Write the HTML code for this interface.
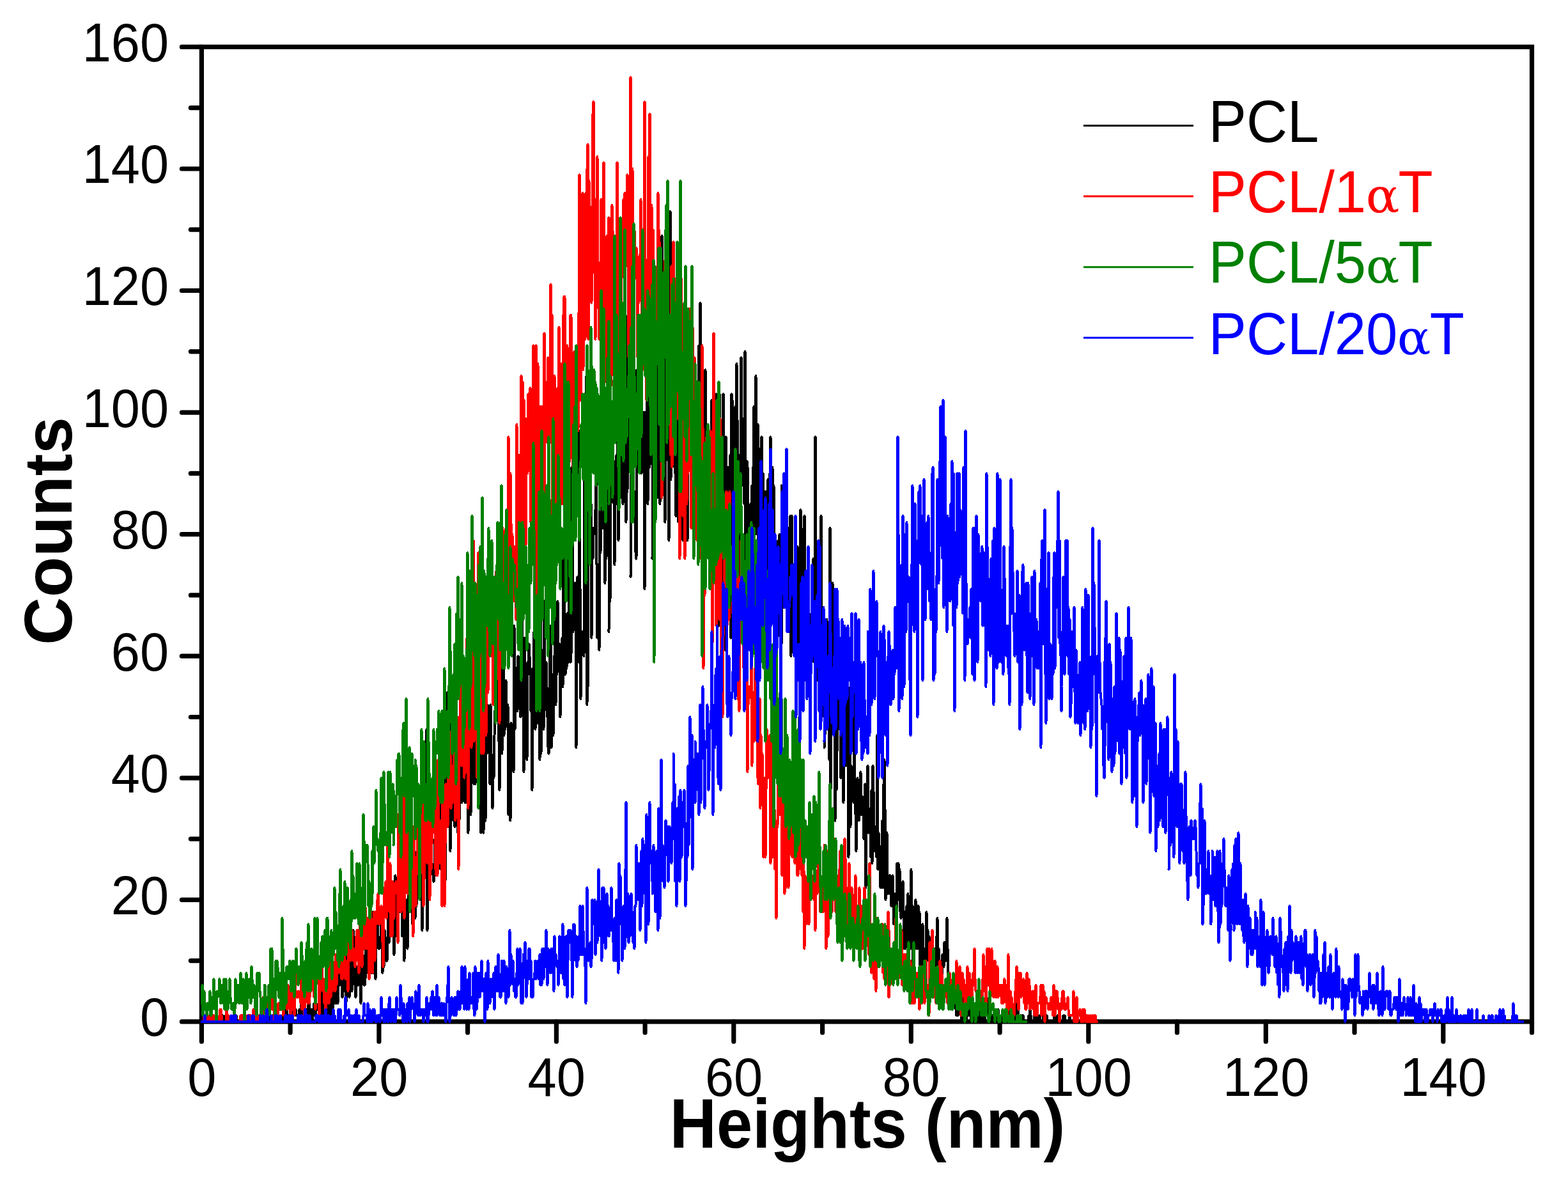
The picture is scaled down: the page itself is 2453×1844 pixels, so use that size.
<!DOCTYPE html>
<html><head><meta charset="utf-8"><title>Height histogram</title><style>html,body{margin:0;padding:0;background:#fff;overflow:hidden}svg{display:block}</style></head><body>
<svg width="2453" height="1844" viewBox="0 0 2453 1844">
<rect width="2453" height="1844" fill="#fff"/>
<g stroke="#000" stroke-width="7.2" fill="none" stroke-linecap="round">
<path d="M315.4 1597.9 V73.4 H2396.5 V1597.9 Z" stroke-linejoin="miter" stroke-linecap="butt"/>
<path d="M315.4 1597.9 H284.4"/>
<path d="M315.4 1502.6 H298.4"/>
<path d="M315.4 1407.3 H284.4"/>
<path d="M315.4 1312.1 H298.4"/>
<path d="M315.4 1216.8 H284.4"/>
<path d="M315.4 1121.5 H298.4"/>
<path d="M315.4 1026.2 H284.4"/>
<path d="M315.4 930.9 H298.4"/>
<path d="M315.4 835.7 H284.4"/>
<path d="M315.4 740.4 H298.4"/>
<path d="M315.4 645.1 H284.4"/>
<path d="M315.4 549.8 H298.4"/>
<path d="M315.4 454.5 H284.4"/>
<path d="M315.4 359.2 H298.4"/>
<path d="M315.4 264.0 H284.4"/>
<path d="M315.4 168.7 H298.4"/>
<path d="M315.4 73.4 H284.4"/>
<path d="M315.4 1597.9 V1628.9"/>
<path d="M454.1 1597.9 V1614.9"/>
<path d="M592.9 1597.9 V1628.9"/>
<path d="M731.6 1597.9 V1614.9"/>
<path d="M870.4 1597.9 V1628.9"/>
<path d="M1009.1 1597.9 V1614.9"/>
<path d="M1147.8 1597.9 V1628.9"/>
<path d="M1286.6 1597.9 V1614.9"/>
<path d="M1425.3 1597.9 V1628.9"/>
<path d="M1564.1 1597.9 V1614.9"/>
<path d="M1702.8 1597.9 V1628.9"/>
<path d="M1841.5 1597.9 V1614.9"/>
<path d="M1980.3 1597.9 V1628.9"/>
<path d="M2119.0 1597.9 V1614.9"/>
<path d="M2257.8 1597.9 V1628.9"/>
<path d="M2396.5 1597.9 V1614.9"/>
</g>
<g fill="none" stroke-width="4.0" stroke-linejoin="round" stroke-linecap="round" shape-rendering="crispEdges">
<path stroke="#000000" d="M315.5,1597.9 L316.5,1597.9 317.5,1597.9 318.5,1597.9 319.5,1597.9 320.5,1597.9 321.5,1597.9 322.5,1597.9 323.5,1597.9 324.5,1597.9 325.5,1597.9 326.5,1597.9 327.5,1597.9 328.5,1597.9 329.5,1597.9 330.5,1597.9 331.5,1597.9 332.5,1597.9 333.5,1597.9 334.5,1597.9 335.5,1597.9 336.5,1597.9 337.5,1597.9 338.5,1597.9 339.5,1597.9 340.5,1597.9 341.5,1597.9 342.5,1597.9 343.5,1597.9 344.5,1597.9 345.5,1597.9 346.5,1597.9 346.5,1597.9 347.5,1597.9 348.5,1588.4 349.5,1597.9 350.5,1597.9 351.5,1597.9 352.5,1588.4 353.5,1597.9 354.5,1597.9 355.5,1597.9 356.5,1597.9 357.5,1597.9 358.5,1597.9 359.5,1597.9 360.5,1597.9 361.5,1597.9 362.5,1597.9 363.5,1597.9 364.5,1597.9 365.5,1597.9 366.5,1597.9 367.5,1597.9 368.5,1597.9 369.5,1588.4 370.5,1597.9 371.5,1597.9 372.5,1597.9 373.5,1597.9 374.5,1597.9 375.5,1597.9 376.5,1597.9 377.5,1597.9 378.5,1597.9 379.5,1597.9 379.5,1597.9 380.5,1597.9 381.5,1597.9 382.5,1597.9 383.5,1597.9 384.5,1597.9 385.5,1597.9 386.5,1597.9 387.5,1597.9 388.5,1597.9 389.5,1597.9 390.5,1597.9 391.5,1597.9 392.5,1597.9 393.5,1597.9 394.5,1597.9 395.5,1588.4 396.5,1588.4 397.5,1597.9 398.5,1597.9 399.5,1597.9 400.5,1597.9 401.5,1597.9 402.5,1597.9 403.5,1597.9 404.5,1597.9 405.5,1588.4 406.5,1597.9 407.5,1597.9 408.5,1597.9 409.5,1588.4 410.5,1597.9 411.5,1597.9 412.5,1597.9 413.5,1588.4 413.5,1597.9 414.5,1597.9 415.5,1597.9 416.5,1597.9 417.5,1597.9 418.5,1597.9 419.5,1597.9 420.5,1588.4 421.5,1597.9 422.5,1597.9 423.5,1597.9 424.5,1597.9 425.5,1597.9 426.5,1588.4 427.5,1588.4 428.5,1597.9 429.5,1597.9 430.5,1588.4 431.5,1597.9 432.5,1597.9 433.5,1597.9 434.5,1588.4 435.5,1597.9 436.5,1597.9 437.5,1597.9 438.5,1597.9 439.5,1597.9 440.5,1597.9 441.5,1588.4 442.5,1588.4 443.5,1597.9 444.5,1597.9 445.5,1597.9 446.5,1588.4 447.5,1597.9 447.5,1588.4 448.5,1569.3 449.5,1588.4 450.5,1597.9 451.5,1588.4 452.5,1597.9 453.5,1588.4 454.5,1588.4 455.5,1578.8 456.5,1588.4 457.5,1588.4 458.5,1588.4 459.5,1569.3 460.5,1588.4 461.5,1578.8 462.5,1578.8 463.5,1588.4 464.5,1588.4 465.5,1588.4 466.5,1597.9 467.5,1597.9 468.5,1578.8 469.5,1578.8 470.5,1597.9 471.5,1569.3 472.5,1578.8 473.5,1588.4 474.5,1578.8 475.5,1578.8 476.5,1597.9 477.5,1578.8 478.5,1578.8 479.5,1588.4 480.5,1578.8 481.5,1578.8 481.5,1588.4 482.5,1559.8 483.5,1569.3 484.5,1588.4 485.5,1578.8 486.5,1578.8 487.5,1588.4 488.5,1597.9 489.5,1578.8 490.5,1588.4 491.5,1569.3 492.5,1588.4 493.5,1588.4 494.5,1569.3 495.5,1578.8 496.5,1578.8 497.5,1578.8 498.5,1569.3 499.5,1550.3 500.5,1588.4 501.5,1578.8 502.5,1578.8 503.5,1597.9 504.5,1531.2 505.5,1550.3 506.5,1559.8 507.5,1588.4 508.5,1569.3 509.5,1569.3 510.5,1578.8 511.5,1550.3 512.5,1588.4 513.5,1559.8 514.5,1569.3 514.5,1578.8 515.5,1550.3 516.5,1550.3 517.5,1588.4 518.5,1531.2 519.5,1569.3 520.5,1578.8 521.5,1550.3 522.5,1569.3 523.5,1531.2 524.5,1569.3 525.5,1540.7 526.5,1540.7 527.5,1569.3 528.5,1569.3 529.5,1521.7 530.5,1521.7 531.5,1540.7 532.5,1521.7 533.5,1540.7 534.5,1512.1 535.5,1559.8 536.5,1550.3 537.5,1512.1 538.5,1550.3 539.5,1531.2 540.5,1550.3 541.5,1569.3 542.5,1483.6 543.5,1540.7 544.5,1521.7 545.5,1540.7 546.5,1559.8 547.5,1521.7 548.5,1540.7 548.5,1455.0 549.5,1540.7 550.5,1550.3 551.5,1502.6 552.5,1455.0 553.5,1483.6 554.5,1521.7 555.5,1540.7 556.5,1559.8 557.5,1512.1 558.5,1531.2 559.5,1540.7 560.5,1540.7 561.5,1512.1 562.5,1531.2 563.5,1521.7 564.5,1569.3 565.5,1502.6 566.5,1483.6 567.5,1493.1 568.5,1502.6 569.5,1540.7 570.5,1540.7 571.5,1531.2 572.5,1464.5 573.5,1521.7 574.5,1502.6 575.5,1474.0 576.5,1464.5 577.5,1483.6 578.5,1521.7 579.5,1512.1 580.5,1474.0 581.5,1521.7 582.5,1521.7 582.5,1464.5 583.5,1426.4 584.5,1521.7 585.5,1521.7 586.5,1435.9 587.5,1531.2 588.5,1474.0 589.5,1464.5 590.5,1445.5 591.5,1464.5 592.5,1483.6 593.5,1483.6 594.5,1474.0 595.5,1464.5 596.5,1416.9 597.5,1483.6 598.5,1521.7 599.5,1435.9 600.5,1512.1 601.5,1455.0 602.5,1464.5 603.5,1483.6 604.5,1502.6 605.5,1502.6 606.5,1474.0 607.5,1426.4 608.5,1474.0 609.5,1455.0 610.5,1445.5 611.5,1388.3 612.5,1464.5 613.5,1445.5 614.5,1397.8 615.5,1426.4 615.5,1435.9 616.5,1493.1 617.5,1455.0 618.5,1369.2 619.5,1464.5 620.5,1435.9 621.5,1397.8 622.5,1474.0 623.5,1426.4 624.5,1426.4 625.5,1407.3 626.5,1407.3 627.5,1388.3 628.5,1426.4 629.5,1464.5 630.5,1331.1 631.5,1445.5 632.5,1502.6 633.5,1426.4 634.5,1445.5 635.5,1416.9 636.5,1407.3 637.5,1483.6 638.5,1426.4 639.5,1321.6 640.5,1416.9 641.5,1407.3 642.5,1378.8 643.5,1388.3 644.5,1350.2 645.5,1445.5 646.5,1378.8 647.5,1312.1 648.5,1388.3 649.5,1435.9 649.5,1435.9 650.5,1388.3 651.5,1416.9 652.5,1331.1 653.5,1273.9 654.5,1378.8 655.5,1283.5 656.5,1378.8 657.5,1369.2 658.5,1340.6 659.5,1359.7 660.5,1455.0 661.5,1369.2 662.5,1331.1 663.5,1340.6 664.5,1340.6 665.5,1321.6 666.5,1331.1 667.5,1140.6 668.5,1455.0 669.5,1397.8 670.5,1359.7 671.5,1331.1 672.5,1388.3 673.5,1359.7 674.5,1235.8 675.5,1350.2 676.5,1359.7 677.5,1369.2 678.5,1378.8 679.5,1369.2 680.5,1312.1 681.5,1321.6 682.5,1350.2 683.5,1359.7 683.5,1226.3 684.5,1312.1 685.5,1350.2 686.5,1264.4 687.5,1302.5 688.5,1226.3 689.5,1359.7 690.5,1273.9 691.5,1312.1 692.5,1340.6 693.5,1216.8 694.5,1159.6 695.5,1312.1 696.5,1378.8 697.5,1293.0 698.5,1235.8 699.5,1083.4 700.5,1273.9 701.5,1207.2 702.5,1273.9 703.5,1169.1 704.5,1331.1 705.5,1197.7 706.5,1102.4 707.5,1226.3 708.5,1245.4 709.5,1283.5 710.5,1226.3 711.5,1293.0 712.5,1283.5 713.5,1283.5 714.5,1245.4 715.5,1264.4 716.5,1302.5 716.5,1188.2 717.5,1235.8 718.5,1283.5 719.5,1207.2 720.5,1235.8 721.5,1140.6 722.5,1254.9 723.5,1226.3 724.5,1216.8 725.5,1207.2 726.5,1235.8 727.5,1254.9 728.5,1254.9 729.5,1254.9 730.5,1131.0 731.5,1159.6 732.5,1302.5 733.5,1216.8 734.5,1207.2 735.5,1131.0 736.5,1273.9 737.5,1140.6 738.5,1150.1 739.5,1140.6 740.5,1150.1 741.5,1226.3 742.5,1131.0 743.5,1226.3 744.5,1140.6 745.5,1064.3 746.5,1169.1 747.5,1150.1 748.5,1264.4 749.5,1159.6 750.5,1140.6 750.5,1140.6 751.5,1216.8 752.5,1302.5 753.5,1073.9 754.5,1226.3 755.5,1140.6 756.5,1302.5 757.5,1150.1 758.5,1092.9 759.5,1283.5 760.5,1131.0 761.5,1178.7 762.5,1102.4 763.5,1112.0 764.5,1159.6 765.5,1178.7 766.5,1226.3 767.5,1102.4 768.5,1178.7 769.5,1226.3 770.5,1264.4 771.5,1197.7 772.5,1216.8 773.5,1150.1 774.5,1112.0 775.5,1045.3 776.5,1121.5 777.5,1112.0 778.5,1121.5 779.5,1064.3 780.5,1159.6 781.5,1235.8 782.5,1131.0 783.5,1169.1 784.5,1121.5 784.5,1045.3 785.5,1178.7 786.5,1007.2 787.5,1026.2 788.5,1150.1 789.5,1112.0 790.5,1140.6 791.5,1064.3 792.5,1121.5 793.5,1121.5 794.5,1102.4 795.5,1273.9 796.5,1159.6 797.5,1169.1 798.5,1283.5 799.5,1131.0 800.5,1150.1 801.5,1197.7 802.5,1169.1 803.5,1207.2 804.5,978.6 805.5,1140.6 806.5,1092.9 807.5,1045.3 808.5,1112.0 809.5,1112.0 810.5,1026.2 811.5,1045.3 812.5,1102.4 813.5,1083.4 814.5,1121.5 815.5,1102.4 816.5,940.5 817.5,1112.0 818.5,1064.3 818.5,1092.9 819.5,1207.2 820.5,997.6 821.5,1140.6 822.5,1112.0 823.5,1140.6 824.5,1188.2 825.5,1035.7 826.5,1054.8 827.5,1007.2 828.5,1026.2 829.5,1054.8 830.5,1112.0 831.5,1064.3 832.5,1235.8 833.5,1045.3 834.5,1121.5 835.5,988.1 836.5,1092.9 837.5,1140.6 838.5,1054.8 839.5,1045.3 840.5,1131.0 841.5,1026.2 842.5,1073.9 843.5,1073.9 844.5,1188.2 845.5,911.9 846.5,1178.7 847.5,1054.8 848.5,1083.4 849.5,1016.7 850.5,1140.6 851.5,940.5 851.5,1112.0 852.5,1064.3 853.5,1035.7 854.5,1035.7 855.5,1073.9 856.5,1121.5 857.5,1169.1 858.5,1178.7 859.5,1131.0 860.5,1007.2 861.5,978.6 862.5,1169.1 863.5,1140.6 864.5,1054.8 865.5,1150.1 866.5,1073.9 867.5,1026.2 868.5,950.0 869.5,1102.4 870.5,978.6 871.5,1054.8 872.5,940.5 873.5,1007.2 874.5,1016.7 875.5,1007.2 876.5,1121.5 877.5,1016.7 878.5,1064.3 879.5,997.6 880.5,1073.9 881.5,873.8 882.5,845.2 883.5,1045.3 884.5,1054.8 885.5,1016.7 885.5,978.6 886.5,1045.3 887.5,959.5 888.5,969.0 889.5,1035.7 890.5,797.5 891.5,854.7 892.5,1035.7 893.5,1026.2 894.5,730.8 895.5,797.5 896.5,988.1 897.5,950.0 898.5,921.4 899.5,911.9 900.5,930.9 901.5,1169.1 902.5,950.0 903.5,902.3 904.5,988.1 905.5,1035.7 906.5,673.7 907.5,921.4 908.5,1092.9 909.5,988.1 910.5,988.1 911.5,1007.2 912.5,988.1 913.5,1026.2 914.5,749.9 915.5,978.6 916.5,930.9 917.5,587.9 918.5,1102.4 919.5,816.6 919.5,1073.9 920.5,769.0 921.5,759.4 922.5,749.9 923.5,873.8 924.5,788.0 925.5,997.6 926.5,854.7 927.5,873.8 928.5,826.1 929.5,835.7 930.5,826.1 931.5,797.5 932.5,730.8 933.5,883.3 934.5,997.6 935.5,883.3 936.5,969.0 937.5,1016.7 938.5,740.4 939.5,864.2 940.5,654.6 941.5,816.6 942.5,826.1 943.5,797.5 944.5,816.6 945.5,797.5 946.5,911.9 947.5,797.5 948.5,873.8 949.5,645.1 950.5,864.2 951.5,807.1 952.5,854.7 952.5,988.1 953.5,692.7 954.5,940.5 955.5,788.0 956.5,740.4 957.5,711.8 958.5,664.1 959.5,778.5 960.5,788.0 961.5,883.3 962.5,721.3 963.5,759.4 964.5,711.8 965.5,788.0 966.5,683.2 967.5,845.2 968.5,788.0 969.5,711.8 970.5,635.6 971.5,778.5 972.5,578.4 973.5,626.0 974.5,788.0 975.5,749.9 976.5,721.3 977.5,730.8 978.5,492.6 979.5,816.6 980.5,626.0 981.5,769.0 982.5,616.5 983.5,473.6 984.5,635.6 985.5,692.7 986.5,664.1 986.5,902.3 987.5,711.8 988.5,778.5 989.5,521.2 990.5,683.2 991.5,769.0 992.5,769.0 993.5,769.0 994.5,864.2 995.5,873.8 996.5,578.4 997.5,664.1 998.5,711.8 999.5,521.2 1000.5,692.7 1001.5,664.1 1002.5,702.3 1003.5,740.4 1004.5,721.3 1005.5,673.7 1006.5,711.8 1007.5,645.1 1008.5,921.4 1009.5,645.1 1010.5,673.7 1011.5,730.8 1012.5,549.8 1013.5,788.0 1014.5,616.5 1015.5,702.3 1016.5,730.8 1017.5,568.9 1018.5,492.6 1019.5,721.3 1020.5,540.3 1020.5,873.8 1021.5,645.1 1022.5,711.8 1023.5,559.3 1024.5,769.0 1025.5,711.8 1026.5,664.1 1027.5,587.9 1028.5,664.1 1029.5,778.5 1030.5,502.2 1031.5,454.5 1032.5,788.0 1033.5,597.4 1034.5,626.0 1035.5,368.8 1036.5,540.3 1037.5,521.2 1038.5,635.6 1039.5,664.1 1040.5,816.6 1041.5,626.0 1042.5,540.3 1043.5,654.6 1044.5,521.2 1045.5,721.3 1046.5,845.2 1047.5,616.5 1048.5,330.7 1049.5,749.9 1050.5,502.2 1051.5,502.2 1052.5,511.7 1053.5,511.7 1053.5,673.7 1054.5,645.1 1055.5,730.8 1056.5,740.4 1057.5,807.1 1058.5,435.5 1059.5,578.4 1060.5,540.3 1061.5,816.6 1062.5,435.5 1063.5,511.7 1064.5,759.4 1065.5,749.9 1066.5,635.6 1067.5,626.0 1068.5,845.2 1069.5,730.8 1070.5,826.1 1071.5,749.9 1072.5,549.8 1073.5,749.9 1074.5,673.7 1075.5,845.2 1076.5,645.1 1077.5,568.9 1078.5,721.3 1079.5,616.5 1080.5,616.5 1081.5,692.7 1082.5,702.3 1083.5,749.9 1084.5,692.7 1085.5,673.7 1086.5,654.6 1087.5,711.8 1087.5,740.4 1088.5,683.2 1089.5,654.6 1090.5,740.4 1091.5,721.3 1092.5,654.6 1093.5,540.3 1094.5,797.5 1095.5,473.6 1096.5,616.5 1097.5,654.6 1098.5,816.6 1099.5,807.1 1100.5,807.1 1101.5,816.6 1102.5,635.6 1103.5,578.4 1104.5,702.3 1105.5,702.3 1106.5,769.0 1107.5,740.4 1108.5,807.1 1109.5,864.2 1110.5,835.7 1111.5,797.5 1112.5,759.4 1113.5,626.0 1114.5,845.2 1115.5,807.1 1116.5,654.6 1117.5,654.6 1118.5,797.5 1119.5,654.6 1120.5,616.5 1121.5,645.1 1121.5,845.2 1122.5,683.2 1123.5,654.6 1124.5,978.6 1125.5,616.5 1126.5,930.9 1127.5,721.3 1128.5,778.5 1129.5,826.1 1130.5,892.8 1131.5,616.5 1132.5,978.6 1133.5,883.3 1134.5,1016.7 1135.5,683.2 1136.5,826.1 1137.5,892.8 1138.5,769.0 1139.5,730.8 1140.5,807.1 1141.5,769.0 1142.5,711.8 1143.5,997.6 1144.5,616.5 1145.5,626.0 1146.5,902.3 1147.5,854.7 1148.5,873.8 1149.5,950.0 1150.5,635.6 1151.5,854.7 1152.5,568.9 1153.5,654.6 1154.5,778.5 1154.5,835.7 1155.5,969.0 1156.5,835.7 1157.5,711.8 1158.5,749.9 1159.5,559.3 1160.5,721.3 1161.5,759.4 1162.5,711.8 1163.5,654.6 1164.5,788.0 1165.5,549.8 1166.5,969.0 1167.5,778.5 1168.5,721.3 1169.5,730.8 1170.5,883.3 1171.5,997.6 1172.5,845.2 1173.5,902.3 1174.5,788.0 1175.5,940.5 1176.5,759.4 1177.5,864.2 1178.5,730.8 1179.5,635.6 1180.5,788.0 1181.5,835.7 1182.5,587.9 1183.5,711.8 1184.5,835.7 1185.5,664.1 1186.5,864.2 1187.5,769.0 1188.5,845.2 1188.5,702.3 1189.5,788.0 1190.5,873.8 1191.5,683.2 1192.5,950.0 1193.5,740.4 1194.5,940.5 1195.5,816.6 1196.5,940.5 1197.5,769.0 1198.5,902.3 1199.5,911.9 1200.5,835.7 1201.5,749.9 1202.5,978.6 1203.5,997.6 1204.5,740.4 1205.5,683.2 1206.5,749.9 1207.5,759.4 1208.5,730.8 1209.5,835.7 1210.5,759.4 1211.5,845.2 1212.5,1073.9 1213.5,845.2 1214.5,959.5 1215.5,988.1 1216.5,997.6 1217.5,845.2 1218.5,921.4 1219.5,835.7 1220.5,854.7 1221.5,873.8 1222.5,1007.2 1222.5,759.4 1223.5,778.5 1224.5,854.7 1225.5,826.1 1226.5,950.0 1227.5,826.1 1228.5,892.8 1229.5,854.7 1230.5,873.8 1231.5,959.5 1232.5,883.3 1233.5,826.1 1234.5,921.4 1235.5,883.3 1236.5,807.1 1237.5,1026.2 1238.5,807.1 1239.5,959.5 1240.5,921.4 1241.5,1016.7 1242.5,940.5 1243.5,911.9 1244.5,1016.7 1245.5,1054.8 1246.5,892.8 1247.5,854.7 1248.5,883.3 1249.5,1016.7 1250.5,921.4 1251.5,1064.3 1252.5,797.5 1253.5,826.1 1254.5,1007.2 1255.5,1092.9 1256.5,883.3 1256.5,1026.2 1257.5,921.4 1258.5,807.1 1259.5,1016.7 1260.5,950.0 1261.5,969.0 1262.5,959.5 1263.5,978.6 1264.5,1035.7 1265.5,1007.2 1266.5,1073.9 1267.5,1112.0 1268.5,988.1 1269.5,959.5 1270.5,988.1 1271.5,911.9 1272.5,873.8 1273.5,1035.7 1274.5,997.6 1275.5,683.2 1276.5,988.1 1277.5,1035.7 1278.5,1026.2 1279.5,1064.3 1280.5,950.0 1281.5,988.1 1282.5,959.5 1283.5,959.5 1284.5,807.1 1285.5,1026.2 1286.5,969.0 1287.5,1092.9 1288.5,978.6 1289.5,1121.5 1289.5,1169.1 1290.5,1150.1 1291.5,1016.7 1292.5,997.6 1293.5,969.0 1294.5,1045.3 1295.5,1102.4 1296.5,1102.4 1297.5,1188.2 1298.5,826.1 1299.5,1235.8 1300.5,1102.4 1301.5,1064.3 1302.5,911.9 1303.5,959.5 1304.5,969.0 1305.5,1131.0 1306.5,1283.5 1307.5,1112.0 1308.5,1235.8 1309.5,1178.7 1310.5,1045.3 1311.5,1140.6 1312.5,1045.3 1313.5,997.6 1314.5,1121.5 1315.5,1216.8 1316.5,1045.3 1317.5,1188.2 1318.5,1178.7 1319.5,1254.9 1320.5,1169.1 1321.5,1064.3 1322.5,1092.9 1323.5,1197.7 1323.5,1178.7 1324.5,1150.1 1325.5,1121.5 1326.5,1073.9 1327.5,1340.6 1328.5,1245.4 1329.5,1140.6 1330.5,1293.0 1331.5,1197.7 1332.5,1207.2 1333.5,1226.3 1334.5,1245.4 1335.5,1254.9 1336.5,1073.9 1337.5,1216.8 1338.5,1273.9 1339.5,1331.1 1340.5,1235.8 1341.5,1216.8 1342.5,1273.9 1343.5,1283.5 1344.5,1273.9 1345.5,1273.9 1346.5,1207.2 1347.5,1273.9 1348.5,1245.4 1349.5,1273.9 1350.5,1273.9 1351.5,1312.1 1352.5,1245.4 1353.5,1226.3 1354.5,1388.3 1355.5,1293.0 1356.5,1273.9 1357.5,1197.7 1357.5,1302.5 1358.5,1302.5 1359.5,1293.0 1360.5,1293.0 1361.5,1264.4 1362.5,1340.6 1363.5,1235.8 1364.5,1350.2 1365.5,1197.7 1366.5,1235.8 1367.5,1331.1 1368.5,1321.6 1369.5,1293.0 1370.5,1293.0 1371.5,1340.6 1372.5,1150.1 1373.5,1359.7 1374.5,1302.5 1375.5,1321.6 1376.5,1331.1 1377.5,1388.3 1378.5,1388.3 1379.5,1359.7 1380.5,1283.5 1381.5,1388.3 1382.5,1226.3 1383.5,1188.2 1384.5,1264.4 1385.5,1407.3 1386.5,1350.2 1387.5,1302.5 1388.5,1397.8 1389.5,1369.2 1390.5,1397.8 1390.5,1397.8 1391.5,1378.8 1392.5,1369.2 1393.5,1397.8 1394.5,1416.9 1395.5,1416.9 1396.5,1369.2 1397.5,1407.3 1398.5,1445.5 1399.5,1397.8 1400.5,1435.9 1401.5,1445.5 1402.5,1464.5 1403.5,1350.2 1404.5,1378.8 1405.5,1350.2 1406.5,1407.3 1407.5,1359.7 1408.5,1426.4 1409.5,1435.9 1410.5,1416.9 1411.5,1397.8 1412.5,1378.8 1413.5,1426.4 1414.5,1483.6 1415.5,1426.4 1416.5,1483.6 1417.5,1455.0 1418.5,1416.9 1419.5,1455.0 1420.5,1397.8 1421.5,1474.0 1422.5,1416.9 1423.5,1435.9 1424.5,1483.6 1424.5,1455.0 1425.5,1359.7 1426.5,1464.5 1427.5,1416.9 1428.5,1512.1 1429.5,1435.9 1430.5,1474.0 1431.5,1416.9 1432.5,1407.3 1433.5,1483.6 1434.5,1474.0 1435.5,1483.6 1436.5,1416.9 1437.5,1445.5 1438.5,1426.4 1439.5,1550.3 1440.5,1474.0 1441.5,1464.5 1442.5,1474.0 1443.5,1445.5 1444.5,1540.7 1445.5,1493.1 1446.5,1483.6 1447.5,1512.1 1448.5,1483.6 1449.5,1426.4 1450.5,1502.6 1451.5,1455.0 1452.5,1502.6 1453.5,1464.5 1454.5,1493.1 1455.5,1512.1 1456.5,1502.6 1457.5,1512.1 1458.5,1464.5 1458.5,1521.7 1459.5,1540.7 1460.5,1512.1 1461.5,1540.7 1462.5,1483.6 1463.5,1521.7 1464.5,1531.2 1465.5,1464.5 1466.5,1435.9 1467.5,1559.8 1468.5,1483.6 1469.5,1521.7 1470.5,1550.3 1471.5,1531.2 1472.5,1540.7 1473.5,1540.7 1474.5,1493.1 1475.5,1512.1 1476.5,1512.1 1477.5,1474.0 1478.5,1493.1 1479.5,1502.6 1480.5,1493.1 1481.5,1435.9 1482.5,1483.6 1483.5,1540.7 1484.5,1540.7 1485.5,1521.7 1486.5,1550.3 1487.5,1569.3 1488.5,1559.8 1489.5,1559.8 1490.5,1559.8 1491.5,1531.2 1491.5,1569.3 1492.5,1559.8 1493.5,1550.3 1494.5,1569.3 1495.5,1578.8 1496.5,1588.4 1497.5,1569.3 1498.5,1588.4 1499.5,1569.3 1500.5,1559.8 1501.5,1550.3 1502.5,1578.8 1503.5,1588.4 1504.5,1597.9 1505.5,1569.3 1506.5,1578.8 1507.5,1559.8 1508.5,1540.7 1509.5,1559.8 1510.5,1569.3 1511.5,1597.9 1512.5,1588.4 1513.5,1569.3 1514.5,1578.8 1515.5,1588.4 1516.5,1578.8 1517.5,1578.8 1518.5,1569.3 1519.5,1597.9 1520.5,1569.3 1521.5,1578.8 1522.5,1578.8 1523.5,1569.3 1524.5,1578.8 1525.5,1597.9 1525.5,1578.8 1526.5,1588.4 1527.5,1588.4 1528.5,1597.9 1529.5,1597.9 1530.5,1588.4 1531.5,1588.4 1532.5,1569.3 1533.5,1597.9 1534.5,1559.8 1535.5,1588.4 1536.5,1588.4 1537.5,1578.8 1538.5,1597.9 1539.5,1588.4 1540.5,1597.9 1541.5,1588.4 1542.5,1588.4 1543.5,1559.8 1544.5,1569.3 1545.5,1588.4 1546.5,1597.9 1547.5,1588.4 1548.5,1597.9 1549.5,1578.8 1550.5,1588.4 1551.5,1597.9 1552.5,1588.4 1553.5,1588.4 1554.5,1588.4 1555.5,1597.9 1556.5,1588.4 1557.5,1578.8 1558.5,1597.9 1559.5,1597.9 1559.5,1597.9 1560.5,1588.4 1561.5,1578.8 1562.5,1597.9 1563.5,1597.9 1564.5,1597.9 1565.5,1597.9 1566.5,1588.4 1567.5,1588.4 1568.5,1588.4 1569.5,1597.9 1570.5,1588.4 1571.5,1597.9 1572.5,1597.9 1573.5,1588.4 1574.5,1597.9 1575.5,1597.9 1576.5,1578.8 1577.5,1588.4 1578.5,1588.4 1579.5,1597.9 1580.5,1597.9 1581.5,1588.4 1582.5,1588.4 1583.5,1597.9 1584.5,1597.9 1585.5,1597.9 1586.5,1597.9 1587.5,1597.9 1588.5,1569.3 1589.5,1588.4 1590.5,1578.8 1591.5,1597.9 1592.5,1569.3 1593.5,1597.9 1593.5,1597.9 1594.5,1597.9 1595.5,1597.9 1596.5,1588.4 1597.5,1588.4 1598.5,1597.9 1599.5,1588.4 1600.5,1588.4 1601.5,1597.9 1602.5,1597.9 1603.5,1597.9 1604.5,1597.9 1605.5,1597.9 1606.5,1597.9 1607.5,1597.9 1608.5,1597.9 1609.5,1588.4 1610.5,1588.4 1611.5,1578.8 1612.5,1588.4 1613.5,1597.9 1614.5,1597.9 1615.5,1597.9 1616.5,1597.9 1617.5,1597.9 1618.5,1588.4 1619.5,1597.9 1620.5,1597.9 1621.5,1588.4 1622.5,1597.9 1623.5,1597.9 1624.5,1588.4 1625.5,1597.9 1626.5,1597.9 1626.5,1588.4 1627.5,1597.9 1628.5,1597.9 1629.5,1597.9 1630.5,1597.9 1631.5,1597.9 1632.5,1588.4 1633.5,1588.4 1634.5,1597.9 1635.5,1597.9 1636.5,1597.9 1637.5,1588.4 1638.5,1597.9 1639.5,1597.9 1640.5,1597.9 1641.5,1597.9 1642.5,1597.9 1643.5,1597.9 1644.5,1597.9 1645.5,1597.9 1646.5,1597.9 1647.5,1597.9 1648.5,1597.9 1649.5,1588.4 1650.5,1588.4 1651.5,1597.9 1652.5,1597.9 1653.5,1597.9 1654.5,1588.4 1655.5,1597.9 1656.5,1597.9 1657.5,1597.9 1658.5,1597.9 1659.5,1597.9 1660.5,1597.9 1660.5,1597.9 1661.5,1597.9 1662.5,1597.9 1663.5,1588.4 1664.5,1597.9 1665.5,1588.4 1666.5,1597.9 1667.5,1597.9 1668.5,1597.9 1669.5,1597.9 1670.5,1597.9 1671.5,1597.9 1672.5,1597.9 1673.5,1588.4 1674.5,1597.9 1675.5,1597.9 1676.5,1597.9 1677.5,1597.9 1678.5,1597.9 1679.5,1597.9 1680.5,1597.9 1681.5,1597.9 1682.5,1597.9 1683.5,1597.9 1684.5,1597.9 1685.5,1597.9 1686.5,1597.9 1687.5,1597.9 1688.5,1597.9 1689.5,1597.9 1690.5,1597.9 1691.5,1597.9 1692.5,1597.9 1693.5,1597.9 1694.5,1597.9 1694.5,1597.9 1695.5,1597.9 1696.5,1597.9 1697.5,1597.9 1698.5,1597.9 1699.5,1588.4 1700.5,1597.9 1701.5,1597.9 1702.5,1597.9 1703.5,1597.9 1704.5,1597.9 1705.5,1597.9 1706.5,1597.9 1707.5,1597.9 1708.5,1597.9 1709.5,1597.9 1710.5,1597.9 1711.5,1597.9 1712.5,1597.9 1713.5,1597.9 1714.5,1597.9 1715.5,1597.9 1716.5,1597.9"/>
<path stroke="#ff0000" d="M315.5,1597.9 L316.5,1597.9 317.5,1597.9 318.5,1597.9 319.5,1588.4 320.5,1588.4 321.5,1597.9 322.5,1597.9 323.5,1588.4 324.5,1597.9 325.5,1588.4 326.5,1597.9 327.5,1597.9 328.5,1588.4 329.5,1597.9 330.5,1597.9 331.5,1597.9 332.5,1588.4 333.5,1588.4 334.5,1588.4 335.5,1597.9 336.5,1597.9 337.5,1597.9 338.5,1597.9 339.5,1597.9 340.5,1597.9 341.5,1597.9 342.5,1597.9 343.5,1588.4 344.5,1578.8 345.5,1578.8 346.5,1588.4 346.5,1597.9 347.5,1597.9 348.5,1597.9 349.5,1597.9 350.5,1597.9 351.5,1597.9 352.5,1597.9 353.5,1597.9 354.5,1578.8 355.5,1588.4 356.5,1597.9 357.5,1588.4 358.5,1597.9 359.5,1597.9 360.5,1597.9 361.5,1588.4 362.5,1597.9 363.5,1597.9 364.5,1597.9 365.5,1597.9 366.5,1597.9 367.5,1597.9 368.5,1597.9 369.5,1597.9 370.5,1597.9 371.5,1597.9 372.5,1597.9 373.5,1597.9 374.5,1597.9 375.5,1597.9 376.5,1588.4 377.5,1588.4 378.5,1588.4 379.5,1597.9 379.5,1588.4 380.5,1597.9 381.5,1597.9 382.5,1597.9 383.5,1597.9 384.5,1588.4 385.5,1597.9 386.5,1597.9 387.5,1588.4 388.5,1597.9 389.5,1588.4 390.5,1588.4 391.5,1588.4 392.5,1588.4 393.5,1597.9 394.5,1597.9 395.5,1588.4 396.5,1578.8 397.5,1588.4 398.5,1597.9 399.5,1597.9 400.5,1578.8 401.5,1597.9 402.5,1588.4 403.5,1597.9 404.5,1597.9 405.5,1597.9 406.5,1588.4 407.5,1597.9 408.5,1588.4 409.5,1597.9 410.5,1578.8 411.5,1559.8 412.5,1588.4 413.5,1597.9 413.5,1597.9 414.5,1578.8 415.5,1569.3 416.5,1559.8 417.5,1588.4 418.5,1578.8 419.5,1588.4 420.5,1559.8 421.5,1569.3 422.5,1569.3 423.5,1569.3 424.5,1550.3 425.5,1578.8 426.5,1578.8 427.5,1578.8 428.5,1559.8 429.5,1597.9 430.5,1578.8 431.5,1597.9 432.5,1578.8 433.5,1588.4 434.5,1588.4 435.5,1569.3 436.5,1569.3 437.5,1578.8 438.5,1578.8 439.5,1559.8 440.5,1578.8 441.5,1578.8 442.5,1569.3 443.5,1588.4 444.5,1569.3 445.5,1569.3 446.5,1559.8 447.5,1559.8 447.5,1550.3 448.5,1569.3 449.5,1578.8 450.5,1540.7 451.5,1550.3 452.5,1569.3 453.5,1578.8 454.5,1588.4 455.5,1559.8 456.5,1550.3 457.5,1569.3 458.5,1578.8 459.5,1540.7 460.5,1588.4 461.5,1512.1 462.5,1559.8 463.5,1550.3 464.5,1559.8 465.5,1559.8 466.5,1550.3 467.5,1559.8 468.5,1559.8 469.5,1550.3 470.5,1569.3 471.5,1521.7 472.5,1578.8 473.5,1540.7 474.5,1540.7 475.5,1540.7 476.5,1588.4 477.5,1550.3 478.5,1531.2 479.5,1540.7 480.5,1502.6 481.5,1569.3 481.5,1559.8 482.5,1550.3 483.5,1569.3 484.5,1559.8 485.5,1550.3 486.5,1550.3 487.5,1521.7 488.5,1540.7 489.5,1512.1 490.5,1493.1 491.5,1559.8 492.5,1540.7 493.5,1578.8 494.5,1531.2 495.5,1521.7 496.5,1521.7 497.5,1521.7 498.5,1531.2 499.5,1588.4 500.5,1540.7 501.5,1550.3 502.5,1521.7 503.5,1512.1 504.5,1531.2 505.5,1550.3 506.5,1531.2 507.5,1569.3 508.5,1531.2 509.5,1578.8 510.5,1540.7 511.5,1531.2 512.5,1531.2 513.5,1569.3 514.5,1569.3 514.5,1493.1 515.5,1559.8 516.5,1540.7 517.5,1559.8 518.5,1531.2 519.5,1550.3 520.5,1502.6 521.5,1521.7 522.5,1512.1 523.5,1550.3 524.5,1550.3 525.5,1493.1 526.5,1540.7 527.5,1521.7 528.5,1464.5 529.5,1493.1 530.5,1521.7 531.5,1455.0 532.5,1493.1 533.5,1512.1 534.5,1531.2 535.5,1531.2 536.5,1521.7 537.5,1474.0 538.5,1493.1 539.5,1502.6 540.5,1531.2 541.5,1502.6 542.5,1512.1 543.5,1521.7 544.5,1550.3 545.5,1474.0 546.5,1493.1 547.5,1493.1 548.5,1502.6 548.5,1502.6 549.5,1474.0 550.5,1455.0 551.5,1493.1 552.5,1502.6 553.5,1493.1 554.5,1483.6 555.5,1512.1 556.5,1502.6 557.5,1464.5 558.5,1455.0 559.5,1502.6 560.5,1455.0 561.5,1521.7 562.5,1493.1 563.5,1445.5 564.5,1407.3 565.5,1455.0 566.5,1512.1 567.5,1474.0 568.5,1426.4 569.5,1483.6 570.5,1464.5 571.5,1416.9 572.5,1483.6 573.5,1483.6 574.5,1445.5 575.5,1435.9 576.5,1483.6 577.5,1531.2 578.5,1493.1 579.5,1388.3 580.5,1435.9 581.5,1445.5 582.5,1521.7 582.5,1483.6 583.5,1445.5 584.5,1483.6 585.5,1426.4 586.5,1502.6 587.5,1426.4 588.5,1445.5 589.5,1435.9 590.5,1407.3 591.5,1397.8 592.5,1445.5 593.5,1445.5 594.5,1435.9 595.5,1426.4 596.5,1416.9 597.5,1435.9 598.5,1474.0 599.5,1512.1 600.5,1416.9 601.5,1388.3 602.5,1397.8 603.5,1378.8 604.5,1435.9 605.5,1416.9 606.5,1312.1 607.5,1407.3 608.5,1388.3 609.5,1426.4 610.5,1350.2 611.5,1464.5 612.5,1426.4 613.5,1464.5 614.5,1378.8 615.5,1435.9 615.5,1388.3 616.5,1435.9 617.5,1397.8 618.5,1388.3 619.5,1378.8 620.5,1397.8 621.5,1378.8 622.5,1474.0 623.5,1273.9 624.5,1350.2 625.5,1340.6 626.5,1312.1 627.5,1426.4 628.5,1388.3 629.5,1369.2 630.5,1235.8 631.5,1302.5 632.5,1435.9 633.5,1388.3 634.5,1340.6 635.5,1188.2 636.5,1321.6 637.5,1397.8 638.5,1397.8 639.5,1302.5 640.5,1388.3 641.5,1397.8 642.5,1254.9 643.5,1312.1 644.5,1369.2 645.5,1340.6 646.5,1464.5 647.5,1293.0 648.5,1369.2 649.5,1359.7 649.5,1340.6 650.5,1416.9 651.5,1369.2 652.5,1340.6 653.5,1302.5 654.5,1264.4 655.5,1312.1 656.5,1388.3 657.5,1369.2 658.5,1293.0 659.5,1359.7 660.5,1340.6 661.5,1188.2 662.5,1416.9 663.5,1378.8 664.5,1245.4 665.5,1245.4 666.5,1235.8 667.5,1340.6 668.5,1350.2 669.5,1226.3 670.5,1312.1 671.5,1264.4 672.5,1407.3 673.5,1226.3 674.5,1359.7 675.5,1321.6 676.5,1254.9 677.5,1302.5 678.5,1159.6 679.5,1283.5 680.5,1293.0 681.5,1359.7 682.5,1369.2 683.5,1235.8 683.5,1235.8 684.5,1369.2 685.5,1188.2 686.5,1283.5 687.5,1350.2 688.5,1283.5 689.5,1350.2 690.5,1350.2 691.5,1416.9 692.5,1197.7 693.5,1283.5 694.5,1312.1 695.5,1416.9 696.5,1321.6 697.5,1226.3 698.5,1254.9 699.5,1273.9 700.5,1293.0 701.5,1197.7 702.5,1140.6 703.5,1216.8 704.5,1178.7 705.5,1264.4 706.5,1226.3 707.5,1197.7 708.5,1216.8 709.5,1254.9 710.5,1150.1 711.5,1197.7 712.5,1283.5 713.5,1169.1 714.5,1131.0 715.5,1169.1 716.5,1207.2 716.5,1121.5 717.5,1359.7 718.5,1188.2 719.5,1197.7 720.5,1064.3 721.5,1178.7 722.5,1197.7 723.5,1121.5 724.5,1121.5 725.5,1197.7 726.5,1216.8 727.5,1064.3 728.5,1207.2 729.5,1207.2 730.5,997.6 731.5,1045.3 732.5,1264.4 733.5,1112.0 734.5,1121.5 735.5,1121.5 736.5,959.5 737.5,1169.1 738.5,1131.0 739.5,1083.4 740.5,845.2 741.5,1159.6 742.5,1140.6 743.5,1150.1 744.5,1073.9 745.5,1054.8 746.5,1216.8 747.5,1026.2 748.5,864.2 749.5,1112.0 750.5,1035.7 750.5,1035.7 751.5,1073.9 752.5,1016.7 753.5,1178.7 754.5,1112.0 755.5,1054.8 756.5,1178.7 757.5,988.1 758.5,1092.9 759.5,959.5 760.5,1150.1 761.5,1045.3 762.5,988.1 763.5,1083.4 764.5,969.0 765.5,1007.2 766.5,1007.2 767.5,930.9 768.5,1026.2 769.5,883.3 770.5,950.0 771.5,1102.4 772.5,978.6 773.5,1016.7 774.5,969.0 775.5,1045.3 776.5,892.8 777.5,1035.7 778.5,1035.7 779.5,883.3 780.5,1064.3 781.5,1131.0 782.5,892.8 783.5,950.0 784.5,940.5 784.5,1026.2 785.5,1026.2 786.5,826.1 787.5,978.6 788.5,1016.7 789.5,883.3 790.5,930.9 791.5,826.1 792.5,816.6 793.5,969.0 794.5,940.5 795.5,683.2 796.5,788.0 797.5,883.3 798.5,740.4 799.5,816.6 800.5,892.8 801.5,835.7 802.5,902.3 803.5,940.5 804.5,854.7 805.5,864.2 806.5,854.7 807.5,969.0 808.5,664.1 809.5,797.5 810.5,873.8 811.5,892.8 812.5,711.8 813.5,721.3 814.5,854.7 815.5,587.9 816.5,807.1 817.5,597.4 818.5,892.8 818.5,816.6 819.5,626.0 820.5,816.6 821.5,845.2 822.5,854.7 823.5,654.6 824.5,683.2 825.5,740.4 826.5,616.5 827.5,645.1 828.5,721.3 829.5,607.0 830.5,816.6 831.5,883.3 832.5,835.7 833.5,664.1 834.5,540.3 835.5,740.4 836.5,702.3 837.5,826.1 838.5,540.3 839.5,1007.2 840.5,930.9 841.5,568.9 842.5,711.8 843.5,654.6 844.5,854.7 845.5,635.6 846.5,635.6 847.5,807.1 848.5,769.0 849.5,635.6 850.5,654.6 851.5,521.2 851.5,778.5 852.5,673.7 853.5,597.4 854.5,616.5 855.5,597.4 856.5,692.7 857.5,559.3 858.5,683.2 859.5,683.2 860.5,616.5 861.5,445.0 862.5,692.7 863.5,492.6 864.5,845.2 865.5,702.3 866.5,873.8 867.5,587.9 868.5,635.6 869.5,788.0 870.5,721.3 871.5,635.6 872.5,607.0 873.5,778.5 874.5,511.7 875.5,864.2 876.5,749.9 877.5,759.4 878.5,568.9 879.5,788.0 880.5,607.0 881.5,492.6 882.5,464.1 883.5,464.1 884.5,568.9 885.5,683.2 885.5,654.6 886.5,807.1 887.5,540.3 888.5,673.7 889.5,683.2 890.5,559.3 891.5,721.3 892.5,492.6 893.5,492.6 894.5,654.6 895.5,597.4 896.5,730.8 897.5,702.3 898.5,549.8 899.5,626.0 900.5,664.1 901.5,702.3 902.5,626.0 903.5,597.4 904.5,673.7 905.5,492.6 906.5,273.5 907.5,473.6 908.5,626.0 909.5,502.2 910.5,445.0 911.5,302.1 912.5,578.4 913.5,425.9 914.5,492.6 915.5,530.8 916.5,302.1 917.5,416.4 918.5,264.0 919.5,225.9 919.5,464.1 920.5,530.8 921.5,283.0 922.5,321.1 923.5,368.8 924.5,387.8 925.5,473.6 926.5,397.4 927.5,178.2 928.5,159.2 929.5,425.9 930.5,368.8 931.5,530.8 932.5,311.6 933.5,464.1 934.5,244.9 935.5,406.9 936.5,483.1 937.5,530.8 938.5,425.9 939.5,473.6 940.5,311.6 941.5,387.8 942.5,511.7 943.5,435.5 944.5,254.4 945.5,502.2 946.5,597.4 947.5,511.7 948.5,435.5 949.5,368.8 950.5,597.4 951.5,530.8 952.5,340.2 952.5,406.9 953.5,559.3 954.5,511.7 955.5,607.0 956.5,397.4 957.5,321.1 958.5,359.2 959.5,473.6 960.5,587.9 961.5,559.3 962.5,397.4 963.5,626.0 964.5,387.8 965.5,254.4 966.5,530.8 967.5,616.5 968.5,788.0 969.5,549.8 970.5,454.5 971.5,616.5 972.5,435.5 973.5,397.4 974.5,397.4 975.5,311.6 976.5,387.8 977.5,302.1 978.5,406.9 979.5,406.9 980.5,416.4 981.5,273.5 982.5,302.1 983.5,559.3 984.5,387.8 985.5,626.0 986.5,121.0 986.5,683.2 987.5,521.2 988.5,264.0 989.5,264.0 990.5,416.4 991.5,349.7 992.5,359.2 993.5,435.5 994.5,425.9 995.5,387.8 996.5,397.4 997.5,559.3 998.5,445.0 999.5,473.6 1000.5,406.9 1001.5,397.4 1002.5,311.6 1003.5,435.5 1004.5,502.2 1005.5,454.5 1006.5,378.3 1007.5,578.4 1008.5,159.2 1009.5,521.2 1010.5,473.6 1011.5,626.0 1012.5,454.5 1013.5,406.9 1014.5,244.9 1015.5,568.9 1016.5,178.2 1017.5,492.6 1018.5,454.5 1019.5,321.1 1020.5,483.1 1020.5,664.1 1021.5,359.2 1022.5,587.9 1023.5,521.2 1024.5,530.8 1025.5,473.6 1026.5,511.7 1027.5,530.8 1028.5,568.9 1029.5,302.1 1030.5,359.2 1031.5,378.3 1032.5,664.1 1033.5,387.8 1034.5,511.7 1035.5,778.5 1036.5,616.5 1037.5,692.7 1038.5,425.9 1039.5,559.3 1040.5,406.9 1041.5,521.2 1042.5,406.9 1043.5,597.4 1044.5,540.3 1045.5,549.8 1046.5,521.2 1047.5,540.3 1048.5,635.6 1049.5,711.8 1050.5,416.4 1051.5,730.8 1052.5,616.5 1053.5,378.3 1053.5,587.9 1054.5,502.2 1055.5,435.5 1056.5,492.6 1057.5,635.6 1058.5,435.5 1059.5,654.6 1060.5,626.0 1061.5,473.6 1062.5,587.9 1063.5,873.8 1064.5,616.5 1065.5,435.5 1066.5,587.9 1067.5,530.8 1068.5,807.1 1069.5,749.9 1070.5,721.3 1071.5,873.8 1072.5,645.1 1073.5,769.0 1074.5,788.0 1075.5,483.1 1076.5,740.4 1077.5,664.1 1078.5,483.1 1079.5,616.5 1080.5,587.9 1081.5,826.1 1082.5,626.0 1083.5,511.7 1084.5,559.3 1085.5,702.3 1086.5,559.3 1087.5,711.8 1087.5,616.5 1088.5,626.0 1089.5,721.3 1090.5,845.2 1091.5,673.7 1092.5,854.7 1093.5,835.7 1094.5,873.8 1095.5,835.7 1096.5,864.2 1097.5,616.5 1098.5,540.3 1099.5,664.1 1100.5,1045.3 1101.5,930.9 1102.5,930.9 1103.5,845.2 1104.5,816.6 1105.5,683.2 1106.5,769.0 1107.5,864.2 1108.5,807.1 1109.5,673.7 1110.5,749.9 1111.5,673.7 1112.5,683.2 1113.5,807.1 1114.5,1007.2 1115.5,835.7 1116.5,521.2 1117.5,845.2 1118.5,816.6 1119.5,873.8 1120.5,978.6 1121.5,930.9 1121.5,892.8 1122.5,749.9 1123.5,845.2 1124.5,835.7 1125.5,969.0 1126.5,654.6 1127.5,816.6 1128.5,1083.4 1129.5,1007.2 1130.5,1121.5 1131.5,997.6 1132.5,921.4 1133.5,864.2 1134.5,826.1 1135.5,778.5 1136.5,769.0 1137.5,978.6 1138.5,940.5 1139.5,788.0 1140.5,969.0 1141.5,769.0 1142.5,883.3 1143.5,873.8 1144.5,911.9 1145.5,864.2 1146.5,959.5 1147.5,988.1 1148.5,1054.8 1149.5,1007.2 1150.5,1054.8 1151.5,940.5 1152.5,1007.2 1153.5,873.8 1154.5,902.3 1154.5,1092.9 1155.5,1026.2 1156.5,1112.0 1157.5,921.4 1158.5,940.5 1159.5,845.2 1160.5,978.6 1161.5,988.1 1162.5,959.5 1163.5,1045.3 1164.5,1112.0 1165.5,1073.9 1166.5,1102.4 1167.5,997.6 1168.5,892.8 1169.5,1207.2 1170.5,1102.4 1171.5,1092.9 1172.5,1073.9 1173.5,1083.4 1174.5,1083.4 1175.5,969.0 1176.5,1197.7 1177.5,1083.4 1178.5,1083.4 1179.5,1159.6 1180.5,1131.0 1181.5,1045.3 1182.5,1045.3 1183.5,1131.0 1184.5,1159.6 1185.5,1216.8 1186.5,1226.3 1187.5,1178.7 1188.5,1092.9 1188.5,1197.7 1189.5,1264.4 1190.5,1150.1 1191.5,1207.2 1192.5,1178.7 1193.5,1235.8 1194.5,1340.6 1195.5,1216.8 1196.5,1245.4 1197.5,1340.6 1198.5,1235.8 1199.5,1140.6 1200.5,1150.1 1201.5,1216.8 1202.5,1159.6 1203.5,1197.7 1204.5,1150.1 1205.5,1350.2 1206.5,1207.2 1207.5,1178.7 1208.5,1340.6 1209.5,1159.6 1210.5,1235.8 1211.5,1264.4 1212.5,1359.7 1213.5,1350.2 1214.5,1435.9 1215.5,1283.5 1216.5,1293.0 1217.5,1178.7 1218.5,1150.1 1219.5,1273.9 1220.5,1245.4 1221.5,1273.9 1222.5,1245.4 1222.5,1340.6 1223.5,1369.2 1224.5,1254.9 1225.5,1312.1 1226.5,1178.7 1227.5,1397.8 1228.5,1302.5 1229.5,1388.3 1230.5,1312.1 1231.5,1293.0 1232.5,1369.2 1233.5,1388.3 1234.5,1340.6 1235.5,1235.8 1236.5,1283.5 1237.5,1273.9 1238.5,1302.5 1239.5,1340.6 1240.5,1331.1 1241.5,1321.6 1242.5,1293.0 1243.5,1350.2 1244.5,1321.6 1245.5,1350.2 1246.5,1350.2 1247.5,1369.2 1248.5,1369.2 1249.5,1331.1 1250.5,1359.7 1251.5,1321.6 1252.5,1340.6 1253.5,1283.5 1254.5,1369.2 1255.5,1369.2 1256.5,1426.4 1256.5,1312.1 1257.5,1359.7 1258.5,1483.6 1259.5,1369.2 1260.5,1407.3 1261.5,1445.5 1262.5,1407.3 1263.5,1407.3 1264.5,1378.8 1265.5,1445.5 1266.5,1359.7 1267.5,1407.3 1268.5,1407.3 1269.5,1397.8 1270.5,1388.3 1271.5,1397.8 1272.5,1369.2 1273.5,1407.3 1274.5,1350.2 1275.5,1455.0 1276.5,1388.3 1277.5,1378.8 1278.5,1397.8 1279.5,1359.7 1280.5,1350.2 1281.5,1359.7 1282.5,1388.3 1283.5,1426.4 1284.5,1407.3 1285.5,1378.8 1286.5,1416.9 1287.5,1426.4 1288.5,1407.3 1289.5,1397.8 1289.5,1321.6 1290.5,1416.9 1291.5,1426.4 1292.5,1483.6 1293.5,1426.4 1294.5,1331.1 1295.5,1464.5 1296.5,1397.8 1297.5,1378.8 1298.5,1426.4 1299.5,1416.9 1300.5,1426.4 1301.5,1426.4 1302.5,1407.3 1303.5,1359.7 1304.5,1397.8 1305.5,1312.1 1306.5,1359.7 1307.5,1426.4 1308.5,1397.8 1309.5,1369.2 1310.5,1378.8 1311.5,1378.8 1312.5,1435.9 1313.5,1359.7 1314.5,1331.1 1315.5,1359.7 1316.5,1388.3 1317.5,1397.8 1318.5,1397.8 1319.5,1388.3 1320.5,1455.0 1321.5,1312.1 1322.5,1340.6 1323.5,1464.5 1323.5,1407.3 1324.5,1464.5 1325.5,1407.3 1326.5,1388.3 1327.5,1397.8 1328.5,1350.2 1329.5,1397.8 1330.5,1435.9 1331.5,1474.0 1332.5,1388.3 1333.5,1435.9 1334.5,1435.9 1335.5,1435.9 1336.5,1464.5 1337.5,1397.8 1338.5,1369.2 1339.5,1455.0 1340.5,1445.5 1341.5,1426.4 1342.5,1435.9 1343.5,1455.0 1344.5,1388.3 1345.5,1455.0 1346.5,1455.0 1347.5,1416.9 1348.5,1483.6 1349.5,1483.6 1350.5,1435.9 1351.5,1426.4 1352.5,1388.3 1353.5,1464.5 1354.5,1455.0 1355.5,1416.9 1356.5,1445.5 1357.5,1474.0 1357.5,1445.5 1358.5,1407.3 1359.5,1493.1 1360.5,1350.2 1361.5,1493.1 1362.5,1474.0 1363.5,1521.7 1364.5,1455.0 1365.5,1502.6 1366.5,1455.0 1367.5,1531.2 1368.5,1493.1 1369.5,1455.0 1370.5,1550.3 1371.5,1435.9 1372.5,1455.0 1373.5,1474.0 1374.5,1512.1 1375.5,1464.5 1376.5,1464.5 1377.5,1464.5 1378.5,1445.5 1379.5,1493.1 1380.5,1445.5 1381.5,1521.7 1382.5,1483.6 1383.5,1531.2 1384.5,1493.1 1385.5,1493.1 1386.5,1483.6 1387.5,1531.2 1388.5,1521.7 1389.5,1426.4 1390.5,1559.8 1390.5,1455.0 1391.5,1540.7 1392.5,1540.7 1393.5,1512.1 1394.5,1493.1 1395.5,1493.1 1396.5,1502.6 1397.5,1493.1 1398.5,1502.6 1399.5,1512.1 1400.5,1483.6 1401.5,1435.9 1402.5,1531.2 1403.5,1493.1 1404.5,1493.1 1405.5,1531.2 1406.5,1512.1 1407.5,1521.7 1408.5,1521.7 1409.5,1512.1 1410.5,1455.0 1411.5,1540.7 1412.5,1531.2 1413.5,1493.1 1414.5,1521.7 1415.5,1493.1 1416.5,1493.1 1417.5,1521.7 1418.5,1502.6 1419.5,1531.2 1420.5,1540.7 1421.5,1531.2 1422.5,1531.2 1423.5,1521.7 1424.5,1502.6 1424.5,1502.6 1425.5,1569.3 1426.5,1521.7 1427.5,1531.2 1428.5,1569.3 1429.5,1502.6 1430.5,1569.3 1431.5,1559.8 1432.5,1559.8 1433.5,1550.3 1434.5,1521.7 1435.5,1531.2 1436.5,1540.7 1437.5,1540.7 1438.5,1578.8 1439.5,1540.7 1440.5,1512.1 1441.5,1540.7 1442.5,1569.3 1443.5,1521.7 1444.5,1559.8 1445.5,1521.7 1446.5,1569.3 1447.5,1512.1 1448.5,1502.6 1449.5,1540.7 1450.5,1540.7 1451.5,1550.3 1452.5,1550.3 1453.5,1588.4 1454.5,1474.0 1455.5,1502.6 1456.5,1521.7 1457.5,1521.7 1458.5,1455.0 1458.5,1559.8 1459.5,1550.3 1460.5,1559.8 1461.5,1531.2 1462.5,1559.8 1463.5,1531.2 1464.5,1569.3 1465.5,1559.8 1466.5,1512.1 1467.5,1512.1 1468.5,1531.2 1469.5,1540.7 1470.5,1502.6 1471.5,1540.7 1472.5,1512.1 1473.5,1521.7 1474.5,1578.8 1475.5,1540.7 1476.5,1550.3 1477.5,1550.3 1478.5,1559.8 1479.5,1531.2 1480.5,1531.2 1481.5,1531.2 1482.5,1569.3 1483.5,1559.8 1484.5,1559.8 1485.5,1521.7 1486.5,1531.2 1487.5,1559.8 1488.5,1550.3 1489.5,1559.8 1490.5,1531.2 1491.5,1569.3 1491.5,1531.2 1492.5,1550.3 1493.5,1559.8 1494.5,1569.3 1495.5,1559.8 1496.5,1502.6 1497.5,1569.3 1498.5,1559.8 1499.5,1550.3 1500.5,1521.7 1501.5,1512.1 1502.5,1521.7 1503.5,1588.4 1504.5,1559.8 1505.5,1521.7 1506.5,1540.7 1507.5,1531.2 1508.5,1559.8 1509.5,1569.3 1510.5,1540.7 1511.5,1540.7 1512.5,1569.3 1513.5,1512.1 1514.5,1569.3 1515.5,1550.3 1516.5,1521.7 1517.5,1531.2 1518.5,1540.7 1519.5,1559.8 1520.5,1569.3 1521.5,1540.7 1522.5,1521.7 1523.5,1540.7 1524.5,1483.6 1525.5,1540.7 1525.5,1531.2 1526.5,1550.3 1527.5,1550.3 1528.5,1550.3 1529.5,1578.8 1530.5,1550.3 1531.5,1550.3 1532.5,1559.8 1533.5,1550.3 1534.5,1550.3 1535.5,1588.4 1536.5,1569.3 1537.5,1531.2 1538.5,1493.1 1539.5,1550.3 1540.5,1512.1 1541.5,1550.3 1542.5,1578.8 1543.5,1540.7 1544.5,1483.6 1545.5,1540.7 1546.5,1540.7 1547.5,1483.6 1548.5,1531.2 1549.5,1559.8 1550.5,1540.7 1551.5,1483.6 1552.5,1550.3 1553.5,1512.1 1554.5,1559.8 1555.5,1531.2 1556.5,1502.6 1557.5,1559.8 1558.5,1550.3 1559.5,1540.7 1559.5,1559.8 1560.5,1512.1 1561.5,1559.8 1562.5,1540.7 1563.5,1550.3 1564.5,1550.3 1565.5,1540.7 1566.5,1559.8 1567.5,1569.3 1568.5,1540.7 1569.5,1569.3 1570.5,1550.3 1571.5,1531.2 1572.5,1559.8 1573.5,1540.7 1574.5,1569.3 1575.5,1588.4 1576.5,1569.3 1577.5,1493.1 1578.5,1578.8 1579.5,1578.8 1580.5,1550.3 1581.5,1569.3 1582.5,1559.8 1583.5,1569.3 1584.5,1578.8 1585.5,1578.8 1586.5,1588.4 1587.5,1569.3 1588.5,1550.3 1589.5,1531.2 1590.5,1512.1 1591.5,1531.2 1592.5,1569.3 1593.5,1578.8 1593.5,1521.7 1594.5,1550.3 1595.5,1531.2 1596.5,1521.7 1597.5,1559.8 1598.5,1540.7 1599.5,1550.3 1600.5,1540.7 1601.5,1531.2 1602.5,1569.3 1603.5,1540.7 1604.5,1578.8 1605.5,1578.8 1606.5,1521.7 1607.5,1559.8 1608.5,1569.3 1609.5,1531.2 1610.5,1540.7 1611.5,1578.8 1612.5,1550.3 1613.5,1559.8 1614.5,1569.3 1615.5,1550.3 1616.5,1578.8 1617.5,1550.3 1618.5,1588.4 1619.5,1578.8 1620.5,1540.7 1621.5,1578.8 1622.5,1588.4 1623.5,1569.3 1624.5,1569.3 1625.5,1569.3 1626.5,1569.3 1626.5,1559.8 1627.5,1569.3 1628.5,1540.7 1629.5,1588.4 1630.5,1578.8 1631.5,1540.7 1632.5,1578.8 1633.5,1550.3 1634.5,1597.9 1635.5,1559.8 1636.5,1559.8 1637.5,1569.3 1638.5,1569.3 1639.5,1569.3 1640.5,1578.8 1641.5,1569.3 1642.5,1578.8 1643.5,1578.8 1644.5,1559.8 1645.5,1578.8 1646.5,1569.3 1647.5,1588.4 1648.5,1540.7 1649.5,1569.3 1650.5,1588.4 1651.5,1550.3 1652.5,1550.3 1653.5,1550.3 1654.5,1559.8 1655.5,1578.8 1656.5,1569.3 1657.5,1597.9 1658.5,1578.8 1659.5,1569.3 1660.5,1578.8 1660.5,1569.3 1661.5,1559.8 1662.5,1550.3 1663.5,1550.3 1664.5,1559.8 1665.5,1578.8 1666.5,1569.3 1667.5,1578.8 1668.5,1569.3 1669.5,1569.3 1670.5,1559.8 1671.5,1578.8 1672.5,1588.4 1673.5,1588.4 1674.5,1588.4 1675.5,1588.4 1676.5,1588.4 1677.5,1588.4 1678.5,1588.4 1679.5,1550.3 1680.5,1597.9 1681.5,1597.9 1682.5,1578.8 1683.5,1597.9 1684.5,1559.8 1685.5,1597.9 1686.5,1588.4 1687.5,1588.4 1688.5,1588.4 1689.5,1578.8 1690.5,1588.4 1691.5,1597.9 1692.5,1588.4 1693.5,1578.8 1694.5,1597.9 1694.5,1578.8 1695.5,1588.4 1696.5,1578.8 1697.5,1588.4 1698.5,1597.9 1699.5,1588.4 1700.5,1588.4 1701.5,1597.9 1702.5,1588.4 1703.5,1597.9 1704.5,1597.9 1705.5,1588.4 1706.5,1597.9 1707.5,1597.9 1708.5,1588.4 1709.5,1597.9 1710.5,1588.4 1711.5,1597.9 1712.5,1588.4 1713.5,1588.4 1714.5,1597.9 1715.5,1597.9 1716.5,1597.9"/>
<path stroke="#008000" d="M315.5,1569.3 L316.5,1540.7 317.5,1588.4 318.5,1559.8 319.5,1550.3 320.5,1578.8 321.5,1569.3 322.5,1578.8 323.5,1588.4 324.5,1569.3 325.5,1569.3 326.5,1569.3 327.5,1578.8 328.5,1550.3 329.5,1588.4 330.5,1588.4 331.5,1559.8 332.5,1578.8 333.5,1569.3 334.5,1531.2 335.5,1559.8 336.5,1578.8 337.5,1569.3 338.5,1597.9 339.5,1550.3 340.5,1559.8 341.5,1550.3 342.5,1550.3 343.5,1531.2 344.5,1559.8 345.5,1569.3 346.5,1550.3 346.5,1550.3 347.5,1540.7 348.5,1559.8 349.5,1569.3 350.5,1531.2 351.5,1578.8 352.5,1578.8 353.5,1531.2 354.5,1578.8 355.5,1578.8 356.5,1578.8 357.5,1550.3 358.5,1550.3 359.5,1531.2 360.5,1559.8 361.5,1569.3 362.5,1578.8 363.5,1578.8 364.5,1569.3 365.5,1569.3 366.5,1588.4 367.5,1578.8 368.5,1531.2 369.5,1569.3 370.5,1559.8 371.5,1540.7 372.5,1540.7 373.5,1559.8 374.5,1569.3 375.5,1559.8 376.5,1521.7 377.5,1559.8 378.5,1569.3 379.5,1569.3 379.5,1569.3 380.5,1531.2 381.5,1550.3 382.5,1597.9 383.5,1559.8 384.5,1540.7 385.5,1521.7 386.5,1578.8 387.5,1531.2 388.5,1559.8 389.5,1559.8 390.5,1531.2 391.5,1559.8 392.5,1569.3 393.5,1512.1 394.5,1531.2 395.5,1559.8 396.5,1559.8 397.5,1540.7 398.5,1559.8 399.5,1578.8 400.5,1559.8 401.5,1588.4 402.5,1521.7 403.5,1540.7 404.5,1550.3 405.5,1521.7 406.5,1550.3 407.5,1559.8 408.5,1588.4 409.5,1588.4 410.5,1569.3 411.5,1578.8 412.5,1559.8 413.5,1569.3 413.5,1540.7 414.5,1540.7 415.5,1588.4 416.5,1569.3 417.5,1559.8 418.5,1559.8 419.5,1559.8 420.5,1540.7 421.5,1588.4 422.5,1559.8 423.5,1483.6 424.5,1559.8 425.5,1483.6 426.5,1550.3 427.5,1559.8 428.5,1531.2 429.5,1531.2 430.5,1597.9 431.5,1502.6 432.5,1531.2 433.5,1502.6 434.5,1512.1 435.5,1550.3 436.5,1559.8 437.5,1550.3 438.5,1521.7 439.5,1578.8 440.5,1578.8 441.5,1435.9 442.5,1483.6 443.5,1540.7 444.5,1578.8 445.5,1521.7 446.5,1540.7 447.5,1569.3 447.5,1521.7 448.5,1512.1 449.5,1512.1 450.5,1512.1 451.5,1531.2 452.5,1531.2 453.5,1502.6 454.5,1531.2 455.5,1550.3 456.5,1550.3 457.5,1512.1 458.5,1502.6 459.5,1531.2 460.5,1559.8 461.5,1512.1 462.5,1502.6 463.5,1483.6 464.5,1521.7 465.5,1521.7 466.5,1540.7 467.5,1512.1 468.5,1521.7 469.5,1531.2 470.5,1512.1 471.5,1474.0 472.5,1493.1 473.5,1531.2 474.5,1550.3 475.5,1540.7 476.5,1559.8 477.5,1502.6 478.5,1540.7 479.5,1483.6 480.5,1474.0 481.5,1550.3 481.5,1502.6 482.5,1445.5 483.5,1550.3 484.5,1493.1 485.5,1550.3 486.5,1512.1 487.5,1483.6 488.5,1521.7 489.5,1493.1 490.5,1531.2 491.5,1531.2 492.5,1435.9 493.5,1569.3 494.5,1540.7 495.5,1493.1 496.5,1435.9 497.5,1493.1 498.5,1521.7 499.5,1531.2 500.5,1531.2 501.5,1531.2 502.5,1474.0 503.5,1512.1 504.5,1464.5 505.5,1512.1 506.5,1502.6 507.5,1464.5 508.5,1455.0 509.5,1512.1 510.5,1550.3 511.5,1435.9 512.5,1435.9 513.5,1512.1 514.5,1474.0 514.5,1502.6 515.5,1502.6 516.5,1464.5 517.5,1493.1 518.5,1455.0 519.5,1531.2 520.5,1483.6 521.5,1493.1 522.5,1474.0 523.5,1388.3 524.5,1483.6 525.5,1426.4 526.5,1445.5 527.5,1464.5 528.5,1502.6 529.5,1493.1 530.5,1512.1 531.5,1397.8 532.5,1359.7 533.5,1474.0 534.5,1474.0 535.5,1502.6 536.5,1483.6 537.5,1416.9 538.5,1493.1 539.5,1378.8 540.5,1464.5 541.5,1493.1 542.5,1426.4 543.5,1388.3 544.5,1407.3 545.5,1435.9 546.5,1474.0 547.5,1426.4 548.5,1483.6 548.5,1407.3 549.5,1445.5 550.5,1331.1 551.5,1397.8 552.5,1369.2 553.5,1435.9 554.5,1416.9 555.5,1435.9 556.5,1397.8 557.5,1407.3 558.5,1350.2 559.5,1435.9 560.5,1378.8 561.5,1445.5 562.5,1350.2 563.5,1445.5 564.5,1455.0 565.5,1464.5 566.5,1407.3 567.5,1388.3 568.5,1273.9 569.5,1312.1 570.5,1445.5 571.5,1331.1 572.5,1340.6 573.5,1321.6 574.5,1321.6 575.5,1350.2 576.5,1416.9 577.5,1378.8 578.5,1435.9 579.5,1426.4 580.5,1388.3 581.5,1416.9 582.5,1331.1 582.5,1397.8 583.5,1340.6 584.5,1293.0 585.5,1350.2 586.5,1312.1 587.5,1302.5 588.5,1235.8 589.5,1321.6 590.5,1312.1 591.5,1331.1 592.5,1331.1 593.5,1397.8 594.5,1378.8 595.5,1302.5 596.5,1216.8 597.5,1397.8 598.5,1350.2 599.5,1321.6 600.5,1207.2 601.5,1254.9 602.5,1321.6 603.5,1312.1 604.5,1302.5 605.5,1321.6 606.5,1312.1 607.5,1207.2 608.5,1293.0 609.5,1340.6 610.5,1207.2 611.5,1293.0 612.5,1302.5 613.5,1235.8 614.5,1226.3 615.5,1235.8 615.5,1321.6 616.5,1245.4 617.5,1254.9 618.5,1245.4 619.5,1293.0 620.5,1245.4 621.5,1188.2 622.5,1226.3 623.5,1178.7 624.5,1178.7 625.5,1302.5 626.5,1216.8 627.5,1340.6 628.5,1226.3 629.5,1216.8 630.5,1140.6 631.5,1131.0 632.5,1245.4 633.5,1140.6 634.5,1216.8 635.5,1092.9 636.5,1302.5 637.5,1226.3 638.5,1188.2 639.5,1273.9 640.5,1169.1 641.5,1426.4 642.5,1254.9 643.5,1359.7 644.5,1178.7 645.5,1216.8 646.5,1245.4 647.5,1197.7 648.5,1197.7 649.5,1312.1 649.5,1188.2 650.5,1235.8 651.5,1197.7 652.5,1293.0 653.5,1273.9 654.5,1226.3 655.5,1283.5 656.5,1407.3 657.5,1273.9 658.5,1264.4 659.5,1140.6 660.5,1216.8 661.5,1254.9 662.5,1188.2 663.5,1159.6 664.5,1235.8 665.5,1283.5 666.5,1283.5 667.5,1283.5 668.5,1226.3 669.5,1092.9 670.5,1159.6 671.5,1207.2 672.5,1283.5 673.5,1283.5 674.5,1235.8 675.5,1235.8 676.5,1216.8 677.5,1293.0 678.5,1140.6 679.5,1207.2 680.5,1264.4 681.5,1159.6 682.5,1178.7 683.5,1159.6 683.5,1140.6 684.5,1150.1 685.5,1178.7 686.5,1112.0 687.5,1245.4 688.5,1140.6 689.5,1254.9 690.5,1216.8 691.5,1112.0 692.5,1254.9 693.5,1159.6 694.5,1112.0 695.5,1045.3 696.5,1216.8 697.5,1131.0 698.5,1150.1 699.5,1131.0 700.5,1112.0 701.5,1216.8 702.5,1073.9 703.5,950.0 704.5,1016.7 705.5,1073.9 706.5,1131.0 707.5,1178.7 708.5,1178.7 709.5,1054.8 710.5,1102.4 711.5,1007.2 712.5,1102.4 713.5,1226.3 714.5,959.5 715.5,1035.7 716.5,902.3 716.5,988.1 717.5,1092.9 718.5,978.6 719.5,1073.9 720.5,969.0 721.5,1007.2 722.5,911.9 723.5,1045.3 724.5,1169.1 725.5,1026.2 726.5,1140.6 727.5,1083.4 728.5,1083.4 729.5,1112.0 730.5,1016.7 731.5,864.2 732.5,969.0 733.5,1026.2 734.5,1140.6 735.5,892.8 736.5,1073.9 737.5,978.6 738.5,807.1 739.5,1016.7 740.5,988.1 741.5,911.9 742.5,1026.2 743.5,911.9 744.5,1140.6 745.5,1092.9 746.5,930.9 747.5,1035.7 748.5,1264.4 749.5,883.3 750.5,1026.2 750.5,1026.2 751.5,854.7 752.5,978.6 753.5,1007.2 754.5,778.5 755.5,1092.9 756.5,1112.0 757.5,892.8 758.5,1073.9 759.5,930.9 760.5,902.3 761.5,969.0 762.5,978.6 763.5,873.8 764.5,826.1 765.5,988.1 766.5,1026.2 767.5,873.8 768.5,969.0 769.5,845.2 770.5,988.1 771.5,1007.2 772.5,911.9 773.5,902.3 774.5,988.1 775.5,1131.0 776.5,940.5 777.5,883.3 778.5,816.6 779.5,845.2 780.5,969.0 781.5,911.9 782.5,1016.7 783.5,816.6 784.5,759.4 784.5,788.0 785.5,997.6 786.5,1045.3 787.5,988.1 788.5,911.9 789.5,1045.3 790.5,835.7 791.5,883.3 792.5,797.5 793.5,1016.7 794.5,930.9 795.5,1045.3 796.5,978.6 797.5,940.5 798.5,854.7 799.5,969.0 800.5,1026.2 801.5,873.8 802.5,883.3 803.5,892.8 804.5,883.3 805.5,892.8 806.5,930.9 807.5,940.5 808.5,950.0 809.5,921.4 810.5,1007.2 811.5,1016.7 812.5,816.6 813.5,835.7 814.5,997.6 815.5,1064.3 816.5,845.2 817.5,816.6 818.5,969.0 818.5,826.1 819.5,940.5 820.5,921.4 821.5,959.5 822.5,854.7 823.5,892.8 824.5,1016.7 825.5,940.5 826.5,883.3 827.5,988.1 828.5,826.1 829.5,835.7 830.5,911.9 831.5,816.6 832.5,873.8 833.5,883.3 834.5,692.7 835.5,826.1 836.5,997.6 837.5,950.0 838.5,959.5 839.5,1112.0 840.5,930.9 841.5,988.1 842.5,1054.8 843.5,769.0 844.5,1112.0 845.5,883.3 846.5,826.1 847.5,673.7 848.5,969.0 849.5,921.4 850.5,769.0 851.5,835.7 851.5,873.8 852.5,873.8 853.5,864.2 854.5,997.6 855.5,759.4 856.5,873.8 857.5,1026.2 858.5,683.2 859.5,778.5 860.5,950.0 861.5,845.2 862.5,807.1 863.5,902.3 864.5,1007.2 865.5,654.6 866.5,797.5 867.5,969.0 868.5,797.5 869.5,911.9 870.5,788.0 871.5,883.3 872.5,788.0 873.5,711.8 874.5,835.7 875.5,778.5 876.5,921.4 877.5,845.2 878.5,826.1 879.5,845.2 880.5,873.8 881.5,835.7 882.5,835.7 883.5,568.9 884.5,759.4 885.5,940.5 885.5,730.8 886.5,597.4 887.5,873.8 888.5,797.5 889.5,597.4 890.5,730.8 891.5,902.3 892.5,845.2 893.5,959.5 894.5,816.6 895.5,854.7 896.5,740.4 897.5,664.1 898.5,845.2 899.5,635.6 900.5,845.2 901.5,540.3 902.5,740.4 903.5,769.0 904.5,807.1 905.5,759.4 906.5,845.2 907.5,730.8 908.5,721.3 909.5,664.1 910.5,730.8 911.5,616.5 912.5,749.9 913.5,702.3 914.5,616.5 915.5,702.3 916.5,911.9 917.5,778.5 918.5,540.3 919.5,797.5 919.5,578.4 920.5,635.6 921.5,769.0 922.5,883.3 923.5,816.6 924.5,511.7 925.5,568.9 926.5,711.8 927.5,635.6 928.5,740.4 929.5,578.4 930.5,673.7 931.5,597.4 932.5,759.4 933.5,607.0 934.5,616.5 935.5,616.5 936.5,730.8 937.5,759.4 938.5,797.5 939.5,645.1 940.5,454.5 941.5,664.1 942.5,645.1 943.5,797.5 944.5,483.1 945.5,664.1 946.5,607.0 947.5,816.6 948.5,769.0 949.5,626.0 950.5,559.3 951.5,654.6 952.5,502.2 952.5,788.0 953.5,664.1 954.5,587.9 955.5,626.0 956.5,740.4 957.5,759.4 958.5,778.5 959.5,626.0 960.5,597.4 961.5,368.8 962.5,692.7 963.5,502.2 964.5,492.6 965.5,549.8 966.5,673.7 967.5,730.8 968.5,797.5 969.5,616.5 970.5,340.2 971.5,549.8 972.5,711.8 973.5,473.6 974.5,673.7 975.5,721.3 976.5,502.2 977.5,359.2 978.5,692.7 979.5,683.2 980.5,683.2 981.5,654.6 982.5,607.0 983.5,587.9 984.5,540.3 985.5,587.9 986.5,740.4 986.5,568.9 987.5,511.7 988.5,816.6 989.5,416.4 990.5,816.6 991.5,349.7 992.5,587.9 993.5,616.5 994.5,730.8 995.5,616.5 996.5,654.6 997.5,702.3 998.5,492.6 999.5,530.8 1000.5,740.4 1001.5,492.6 1002.5,540.3 1003.5,683.2 1004.5,511.7 1005.5,359.2 1006.5,530.8 1007.5,568.9 1008.5,483.1 1009.5,587.9 1010.5,549.8 1011.5,521.2 1012.5,626.0 1013.5,454.5 1014.5,578.4 1015.5,464.1 1016.5,578.4 1017.5,635.6 1018.5,711.8 1019.5,664.1 1020.5,445.0 1020.5,492.6 1021.5,664.1 1022.5,406.9 1023.5,1035.7 1024.5,416.4 1025.5,816.6 1026.5,530.8 1027.5,568.9 1028.5,502.2 1029.5,502.2 1030.5,387.8 1031.5,664.1 1032.5,597.4 1033.5,387.8 1034.5,721.3 1035.5,521.2 1036.5,702.3 1037.5,749.9 1038.5,425.9 1039.5,559.3 1040.5,511.7 1041.5,359.2 1042.5,321.1 1043.5,692.7 1044.5,283.0 1045.5,664.1 1046.5,645.1 1047.5,540.3 1048.5,492.6 1049.5,635.6 1050.5,626.0 1051.5,445.0 1052.5,549.8 1053.5,683.2 1053.5,435.5 1054.5,607.0 1055.5,530.8 1056.5,711.8 1057.5,616.5 1058.5,473.6 1059.5,378.3 1060.5,511.7 1061.5,483.1 1062.5,616.5 1063.5,769.0 1064.5,283.0 1065.5,769.0 1066.5,645.1 1067.5,578.4 1068.5,654.6 1069.5,549.8 1070.5,473.6 1071.5,683.2 1072.5,416.4 1073.5,549.8 1074.5,721.3 1075.5,673.7 1076.5,483.1 1077.5,597.4 1078.5,607.0 1079.5,502.2 1080.5,626.0 1081.5,711.8 1082.5,416.4 1083.5,626.0 1084.5,692.7 1085.5,873.8 1086.5,654.6 1087.5,749.9 1087.5,568.9 1088.5,759.4 1089.5,645.1 1090.5,597.4 1091.5,769.0 1092.5,883.3 1093.5,597.4 1094.5,635.6 1095.5,711.8 1096.5,797.5 1097.5,854.7 1098.5,1026.2 1099.5,721.3 1100.5,749.9 1101.5,883.3 1102.5,692.7 1103.5,921.4 1104.5,721.3 1105.5,721.3 1106.5,673.7 1107.5,664.1 1108.5,873.8 1109.5,683.2 1110.5,921.4 1111.5,892.8 1112.5,797.5 1113.5,797.5 1114.5,892.8 1115.5,740.4 1116.5,911.9 1117.5,807.1 1118.5,797.5 1119.5,807.1 1120.5,883.3 1121.5,626.0 1121.5,864.2 1122.5,826.1 1123.5,873.8 1124.5,597.4 1125.5,826.1 1126.5,826.1 1127.5,864.2 1128.5,778.5 1129.5,683.2 1130.5,835.7 1131.5,769.0 1132.5,873.8 1133.5,797.5 1134.5,854.7 1135.5,845.2 1136.5,797.5 1137.5,911.9 1138.5,930.9 1139.5,950.0 1140.5,950.0 1141.5,788.0 1142.5,902.3 1143.5,883.3 1144.5,854.7 1145.5,930.9 1146.5,940.5 1147.5,921.4 1148.5,940.5 1149.5,940.5 1150.5,702.3 1151.5,759.4 1152.5,902.3 1153.5,902.3 1154.5,721.3 1154.5,778.5 1155.5,835.7 1156.5,749.9 1157.5,788.0 1158.5,740.4 1159.5,788.0 1160.5,969.0 1161.5,1007.2 1162.5,835.7 1163.5,873.8 1164.5,969.0 1165.5,959.5 1166.5,1035.7 1167.5,1035.7 1168.5,835.7 1169.5,864.2 1170.5,892.8 1171.5,911.9 1172.5,826.1 1173.5,959.5 1174.5,930.9 1175.5,816.6 1176.5,940.5 1177.5,1026.2 1178.5,940.5 1179.5,826.1 1180.5,845.2 1181.5,950.0 1182.5,1045.3 1183.5,845.2 1184.5,921.4 1185.5,873.8 1186.5,950.0 1187.5,873.8 1188.5,959.5 1188.5,940.5 1189.5,988.1 1190.5,892.8 1191.5,997.6 1192.5,1035.7 1193.5,864.2 1194.5,1045.3 1195.5,930.9 1196.5,921.4 1197.5,1159.6 1198.5,911.9 1199.5,1045.3 1200.5,892.8 1201.5,1064.3 1202.5,969.0 1203.5,1026.2 1204.5,930.9 1205.5,1092.9 1206.5,1092.9 1207.5,1159.6 1208.5,1064.3 1209.5,1007.2 1210.5,1293.0 1211.5,1197.7 1212.5,1216.8 1213.5,1092.9 1214.5,1007.2 1215.5,1121.5 1216.5,1226.3 1217.5,1121.5 1218.5,1092.9 1219.5,1245.4 1220.5,1083.4 1221.5,1169.1 1222.5,1245.4 1222.5,1092.9 1223.5,1197.7 1224.5,1226.3 1225.5,1254.9 1226.5,1188.2 1227.5,1169.1 1228.5,1092.9 1229.5,1293.0 1230.5,1235.8 1231.5,1150.1 1232.5,1264.4 1233.5,1216.8 1234.5,1312.1 1235.5,1188.2 1236.5,1293.0 1237.5,1254.9 1238.5,1273.9 1239.5,1226.3 1240.5,1112.0 1241.5,1302.5 1242.5,1207.2 1243.5,1121.5 1244.5,1340.6 1245.5,1302.5 1246.5,1331.1 1247.5,1312.1 1248.5,1140.6 1249.5,1321.6 1250.5,1121.5 1251.5,1207.2 1252.5,1293.0 1253.5,1188.2 1254.5,1264.4 1255.5,1340.6 1256.5,1226.3 1256.5,1188.2 1257.5,1350.2 1258.5,1312.1 1259.5,1283.5 1260.5,1293.0 1261.5,1340.6 1262.5,1331.1 1263.5,1293.0 1264.5,1378.8 1265.5,1302.5 1266.5,1254.9 1267.5,1273.9 1268.5,1407.3 1269.5,1273.9 1270.5,1350.2 1271.5,1302.5 1272.5,1359.7 1273.5,1245.4 1274.5,1378.8 1275.5,1359.7 1276.5,1254.9 1277.5,1331.1 1278.5,1350.2 1279.5,1312.1 1280.5,1350.2 1281.5,1207.2 1282.5,1321.6 1283.5,1388.3 1284.5,1426.4 1285.5,1378.8 1286.5,1378.8 1287.5,1369.2 1288.5,1331.1 1289.5,1388.3 1289.5,1340.6 1290.5,1407.3 1291.5,1321.6 1292.5,1331.1 1293.5,1397.8 1294.5,1407.3 1295.5,1369.2 1296.5,1378.8 1297.5,1283.5 1298.5,1226.3 1299.5,1435.9 1300.5,1388.3 1301.5,1293.0 1302.5,1264.4 1303.5,1397.8 1304.5,1407.3 1305.5,1359.7 1306.5,1369.2 1307.5,1312.1 1308.5,1397.8 1309.5,1445.5 1310.5,1474.0 1311.5,1464.5 1312.5,1388.3 1313.5,1435.9 1314.5,1474.0 1315.5,1397.8 1316.5,1321.6 1317.5,1502.6 1318.5,1474.0 1319.5,1445.5 1320.5,1464.5 1321.5,1397.8 1322.5,1407.3 1323.5,1464.5 1323.5,1445.5 1324.5,1474.0 1325.5,1483.6 1326.5,1455.0 1327.5,1464.5 1328.5,1397.8 1329.5,1397.8 1330.5,1483.6 1331.5,1435.9 1332.5,1435.9 1333.5,1474.0 1334.5,1435.9 1335.5,1502.6 1336.5,1464.5 1337.5,1474.0 1338.5,1464.5 1339.5,1445.5 1340.5,1483.6 1341.5,1435.9 1342.5,1416.9 1343.5,1474.0 1344.5,1502.6 1345.5,1512.1 1346.5,1474.0 1347.5,1445.5 1348.5,1455.0 1349.5,1435.9 1350.5,1435.9 1351.5,1407.3 1352.5,1455.0 1353.5,1502.6 1354.5,1483.6 1355.5,1407.3 1356.5,1445.5 1357.5,1416.9 1357.5,1464.5 1358.5,1455.0 1359.5,1369.2 1360.5,1464.5 1361.5,1512.1 1362.5,1483.6 1363.5,1502.6 1364.5,1445.5 1365.5,1474.0 1366.5,1502.6 1367.5,1474.0 1368.5,1397.8 1369.5,1474.0 1370.5,1483.6 1371.5,1502.6 1372.5,1445.5 1373.5,1435.9 1374.5,1512.1 1375.5,1512.1 1376.5,1502.6 1377.5,1455.0 1378.5,1445.5 1379.5,1502.6 1380.5,1483.6 1381.5,1512.1 1382.5,1464.5 1383.5,1512.1 1384.5,1445.5 1385.5,1540.7 1386.5,1512.1 1387.5,1493.1 1388.5,1455.0 1389.5,1464.5 1390.5,1483.6 1390.5,1493.1 1391.5,1540.7 1392.5,1521.7 1393.5,1483.6 1394.5,1531.2 1395.5,1502.6 1396.5,1483.6 1397.5,1540.7 1398.5,1474.0 1399.5,1493.1 1400.5,1531.2 1401.5,1493.1 1402.5,1416.9 1403.5,1483.6 1404.5,1540.7 1405.5,1493.1 1406.5,1493.1 1407.5,1521.7 1408.5,1445.5 1409.5,1521.7 1410.5,1531.2 1411.5,1512.1 1412.5,1512.1 1413.5,1531.2 1414.5,1550.3 1415.5,1502.6 1416.5,1502.6 1417.5,1540.7 1418.5,1512.1 1419.5,1550.3 1420.5,1483.6 1421.5,1474.0 1422.5,1531.2 1423.5,1569.3 1424.5,1512.1 1424.5,1512.1 1425.5,1531.2 1426.5,1550.3 1427.5,1550.3 1428.5,1531.2 1429.5,1474.0 1430.5,1512.1 1431.5,1531.2 1432.5,1531.2 1433.5,1559.8 1434.5,1531.2 1435.5,1559.8 1436.5,1550.3 1437.5,1540.7 1438.5,1512.1 1439.5,1559.8 1440.5,1550.3 1441.5,1569.3 1442.5,1512.1 1443.5,1521.7 1444.5,1521.7 1445.5,1521.7 1446.5,1502.6 1447.5,1531.2 1448.5,1550.3 1449.5,1550.3 1450.5,1559.8 1451.5,1550.3 1452.5,1588.4 1453.5,1569.3 1454.5,1569.3 1455.5,1531.2 1456.5,1559.8 1457.5,1502.6 1458.5,1550.3 1458.5,1550.3 1459.5,1559.8 1460.5,1483.6 1461.5,1512.1 1462.5,1540.7 1463.5,1521.7 1464.5,1540.7 1465.5,1569.3 1466.5,1512.1 1467.5,1550.3 1468.5,1550.3 1469.5,1578.8 1470.5,1540.7 1471.5,1559.8 1472.5,1569.3 1473.5,1540.7 1474.5,1578.8 1475.5,1578.8 1476.5,1569.3 1477.5,1540.7 1478.5,1550.3 1479.5,1531.2 1480.5,1531.2 1481.5,1550.3 1482.5,1550.3 1483.5,1521.7 1484.5,1578.8 1485.5,1559.8 1486.5,1550.3 1487.5,1578.8 1488.5,1540.7 1489.5,1578.8 1490.5,1578.8 1491.5,1521.7 1491.5,1540.7 1492.5,1540.7 1493.5,1550.3 1494.5,1569.3 1495.5,1550.3 1496.5,1559.8 1497.5,1578.8 1498.5,1540.7 1499.5,1578.8 1500.5,1569.3 1501.5,1578.8 1502.5,1550.3 1503.5,1578.8 1504.5,1569.3 1505.5,1569.3 1506.5,1588.4 1507.5,1578.8 1508.5,1578.8 1509.5,1597.9 1510.5,1569.3 1511.5,1588.4 1512.5,1578.8 1513.5,1578.8 1514.5,1578.8 1515.5,1559.8 1516.5,1559.8 1517.5,1569.3 1518.5,1569.3 1519.5,1578.8 1520.5,1597.9 1521.5,1559.8 1522.5,1588.4 1523.5,1569.3 1524.5,1588.4 1525.5,1569.3 1525.5,1597.9 1526.5,1597.9 1527.5,1569.3 1528.5,1550.3 1529.5,1588.4 1530.5,1578.8 1531.5,1531.2 1532.5,1578.8 1533.5,1578.8 1534.5,1569.3 1535.5,1588.4 1536.5,1578.8 1537.5,1559.8 1538.5,1588.4 1539.5,1569.3 1540.5,1588.4 1541.5,1569.3 1542.5,1569.3 1543.5,1588.4 1544.5,1588.4 1545.5,1588.4 1546.5,1597.9 1547.5,1597.9 1548.5,1550.3 1549.5,1588.4 1550.5,1578.8 1551.5,1578.8 1552.5,1578.8 1553.5,1569.3 1554.5,1578.8 1555.5,1588.4 1556.5,1597.9 1557.5,1578.8 1558.5,1588.4 1559.5,1588.4 1559.5,1588.4 1560.5,1578.8 1561.5,1588.4 1562.5,1597.9 1563.5,1588.4 1564.5,1597.9 1565.5,1588.4 1566.5,1588.4 1567.5,1588.4 1568.5,1578.8 1569.5,1588.4 1570.5,1597.9 1571.5,1597.9 1572.5,1578.8 1573.5,1597.9 1574.5,1578.8 1575.5,1588.4 1576.5,1588.4 1577.5,1597.9 1578.5,1597.9 1579.5,1588.4 1580.5,1597.9 1581.5,1578.8 1582.5,1597.9 1583.5,1597.9 1584.5,1588.4 1585.5,1597.9 1586.5,1597.9 1587.5,1597.9 1588.5,1597.9 1589.5,1597.9 1590.5,1597.9 1591.5,1588.4 1592.5,1597.9 1593.5,1588.4 1593.5,1597.9 1594.5,1597.9 1595.5,1597.9 1596.5,1588.4 1597.5,1597.9 1598.5,1597.9 1599.5,1597.9 1600.5,1597.9 1601.5,1597.9 1602.5,1597.9 1603.5,1597.9 1604.5,1597.9 1605.5,1597.9"/>
<path stroke="#0000ff" d="M315.5,1597.9 L316.5,1597.9 317.5,1597.9 318.5,1597.9 319.5,1597.9 320.5,1588.4 321.5,1597.9 322.5,1597.9 323.5,1597.9 324.5,1597.9 325.5,1597.9 326.5,1597.9 327.5,1597.9 328.5,1597.9 329.5,1597.9 330.5,1597.9 331.5,1597.9 332.5,1597.9 333.5,1597.9 334.5,1597.9 335.5,1597.9 336.5,1597.9 337.5,1597.9 338.5,1597.9 339.5,1597.9 340.5,1597.9 341.5,1597.9 342.5,1597.9 343.5,1597.9 344.5,1597.9 345.5,1597.9 346.5,1597.9 346.5,1597.9 347.5,1597.9 348.5,1597.9 349.5,1597.9 350.5,1597.9 351.5,1597.9 352.5,1597.9 353.5,1597.9 354.5,1597.9 355.5,1597.9 356.5,1597.9 357.5,1597.9 358.5,1597.9 359.5,1597.9 360.5,1597.9 361.5,1588.4 362.5,1597.9 363.5,1597.9 364.5,1588.4 365.5,1597.9 366.5,1597.9 367.5,1588.4 368.5,1588.4 369.5,1597.9 370.5,1597.9 371.5,1597.9 372.5,1597.9 373.5,1597.9 374.5,1597.9 375.5,1597.9 376.5,1597.9 377.5,1597.9 378.5,1597.9 379.5,1597.9 379.5,1597.9 380.5,1597.9 381.5,1597.9 382.5,1597.9 383.5,1597.9 384.5,1597.9 385.5,1597.9 386.5,1597.9 387.5,1597.9 388.5,1588.4 389.5,1597.9 390.5,1597.9 391.5,1597.9 392.5,1597.9 393.5,1597.9 394.5,1588.4 395.5,1597.9 396.5,1588.4 397.5,1597.9 398.5,1597.9 399.5,1597.9 400.5,1597.9 401.5,1597.9 402.5,1597.9 403.5,1597.9 404.5,1597.9 405.5,1597.9 406.5,1597.9 407.5,1588.4 408.5,1597.9 409.5,1597.9 410.5,1597.9 411.5,1588.4 412.5,1597.9 413.5,1597.9 413.5,1597.9 414.5,1597.9 415.5,1597.9 416.5,1588.4 417.5,1578.8 418.5,1588.4 419.5,1597.9 420.5,1597.9 421.5,1597.9 422.5,1597.9 423.5,1597.9 424.5,1588.4 425.5,1597.9 426.5,1597.9 427.5,1597.9 428.5,1597.9 429.5,1597.9 430.5,1588.4 431.5,1597.9 432.5,1597.9 433.5,1588.4 434.5,1597.9 435.5,1597.9 436.5,1597.9 437.5,1597.9 438.5,1588.4 439.5,1597.9 440.5,1597.9 441.5,1597.9 442.5,1597.9 443.5,1597.9 444.5,1597.9 445.5,1597.9 446.5,1588.4 447.5,1588.4 447.5,1597.9 448.5,1597.9 449.5,1597.9 450.5,1597.9 451.5,1588.4 452.5,1588.4 453.5,1597.9 454.5,1597.9 455.5,1588.4 456.5,1597.9 457.5,1588.4 458.5,1597.9 459.5,1597.9 460.5,1597.9 461.5,1597.9 462.5,1597.9 463.5,1597.9 464.5,1597.9 465.5,1597.9 466.5,1588.4 467.5,1588.4 468.5,1597.9 469.5,1588.4 470.5,1597.9 471.5,1588.4 472.5,1588.4 473.5,1597.9 474.5,1597.9 475.5,1597.9 476.5,1597.9 477.5,1578.8 478.5,1597.9 479.5,1597.9 480.5,1588.4 481.5,1597.9 481.5,1588.4 482.5,1597.9 483.5,1597.9 484.5,1588.4 485.5,1597.9 486.5,1597.9 487.5,1597.9 488.5,1597.9 489.5,1597.9 490.5,1597.9 491.5,1597.9 492.5,1597.9 493.5,1597.9 494.5,1588.4 495.5,1588.4 496.5,1588.4 497.5,1588.4 498.5,1597.9 499.5,1597.9 500.5,1597.9 501.5,1588.4 502.5,1597.9 503.5,1588.4 504.5,1597.9 505.5,1597.9 506.5,1588.4 507.5,1597.9 508.5,1588.4 509.5,1578.8 510.5,1597.9 511.5,1597.9 512.5,1597.9 513.5,1588.4 514.5,1588.4 514.5,1597.9 515.5,1597.9 516.5,1597.9 517.5,1597.9 518.5,1597.9 519.5,1588.4 520.5,1597.9 521.5,1578.8 522.5,1597.9 523.5,1588.4 524.5,1597.9 525.5,1597.9 526.5,1597.9 527.5,1597.9 528.5,1597.9 529.5,1578.8 530.5,1597.9 531.5,1597.9 532.5,1578.8 533.5,1597.9 534.5,1597.9 535.5,1597.9 536.5,1597.9 537.5,1597.9 538.5,1588.4 539.5,1597.9 540.5,1559.8 541.5,1588.4 542.5,1588.4 543.5,1588.4 544.5,1588.4 545.5,1578.8 546.5,1597.9 547.5,1588.4 548.5,1597.9 548.5,1588.4 549.5,1597.9 550.5,1588.4 551.5,1597.9 552.5,1597.9 553.5,1588.4 554.5,1588.4 555.5,1597.9 556.5,1588.4 557.5,1578.8 558.5,1597.9 559.5,1588.4 560.5,1597.9 561.5,1588.4 562.5,1597.9 563.5,1597.9 564.5,1597.9 565.5,1597.9 566.5,1597.9 567.5,1597.9 568.5,1588.4 569.5,1569.3 570.5,1588.4 571.5,1588.4 572.5,1588.4 573.5,1588.4 574.5,1597.9 575.5,1569.3 576.5,1597.9 577.5,1578.8 578.5,1578.8 579.5,1597.9 580.5,1588.4 581.5,1588.4 582.5,1597.9 582.5,1597.9 583.5,1578.8 584.5,1588.4 585.5,1578.8 586.5,1588.4 587.5,1597.9 588.5,1597.9 589.5,1588.4 590.5,1597.9 591.5,1588.4 592.5,1588.4 593.5,1588.4 594.5,1597.9 595.5,1588.4 596.5,1559.8 597.5,1588.4 598.5,1578.8 599.5,1588.4 600.5,1597.9 601.5,1578.8 602.5,1597.9 603.5,1578.8 604.5,1578.8 605.5,1578.8 606.5,1597.9 607.5,1597.9 608.5,1569.3 609.5,1559.8 610.5,1578.8 611.5,1597.9 612.5,1578.8 613.5,1578.8 614.5,1578.8 615.5,1597.9 615.5,1588.4 616.5,1597.9 617.5,1578.8 618.5,1597.9 619.5,1588.4 620.5,1559.8 621.5,1578.8 622.5,1578.8 623.5,1578.8 624.5,1578.8 625.5,1588.4 626.5,1540.7 627.5,1559.8 628.5,1569.3 629.5,1578.8 630.5,1597.9 631.5,1569.3 632.5,1597.9 633.5,1588.4 634.5,1578.8 635.5,1578.8 636.5,1597.9 637.5,1569.3 638.5,1569.3 639.5,1578.8 640.5,1559.8 641.5,1597.9 642.5,1578.8 643.5,1578.8 644.5,1559.8 645.5,1569.3 646.5,1569.3 647.5,1578.8 648.5,1597.9 649.5,1588.4 649.5,1588.4 650.5,1550.3 651.5,1578.8 652.5,1559.8 653.5,1578.8 654.5,1588.4 655.5,1540.7 656.5,1588.4 657.5,1588.4 658.5,1578.8 659.5,1578.8 660.5,1578.8 661.5,1588.4 662.5,1597.9 663.5,1578.8 664.5,1578.8 665.5,1588.4 666.5,1578.8 667.5,1559.8 668.5,1597.9 669.5,1597.9 670.5,1588.4 671.5,1569.3 672.5,1578.8 673.5,1578.8 674.5,1559.8 675.5,1578.8 676.5,1550.3 677.5,1569.3 678.5,1588.4 679.5,1559.8 680.5,1569.3 681.5,1569.3 682.5,1588.4 683.5,1540.7 683.5,1588.4 684.5,1578.8 685.5,1578.8 686.5,1559.8 687.5,1569.3 688.5,1588.4 689.5,1588.4 690.5,1569.3 691.5,1569.3 692.5,1588.4 693.5,1578.8 694.5,1569.3 695.5,1588.4 696.5,1578.8 697.5,1597.9 698.5,1569.3 699.5,1559.8 700.5,1540.7 701.5,1512.1 702.5,1569.3 703.5,1597.9 704.5,1588.4 705.5,1588.4 706.5,1559.8 707.5,1578.8 708.5,1578.8 709.5,1569.3 710.5,1588.4 711.5,1559.8 712.5,1578.8 713.5,1588.4 714.5,1559.8 715.5,1559.8 716.5,1550.3 716.5,1578.8 717.5,1559.8 718.5,1569.3 719.5,1578.8 720.5,1550.3 721.5,1569.3 722.5,1512.1 723.5,1540.7 724.5,1569.3 725.5,1559.8 726.5,1578.8 727.5,1512.1 728.5,1569.3 729.5,1569.3 730.5,1578.8 731.5,1569.3 732.5,1531.2 733.5,1578.8 734.5,1521.7 735.5,1559.8 736.5,1569.3 737.5,1559.8 738.5,1559.8 739.5,1569.3 740.5,1521.7 741.5,1578.8 742.5,1588.4 743.5,1512.1 744.5,1569.3 745.5,1578.8 746.5,1569.3 747.5,1521.7 748.5,1559.8 749.5,1521.7 750.5,1559.8 750.5,1531.2 751.5,1550.3 752.5,1550.3 753.5,1502.6 754.5,1531.2 755.5,1550.3 756.5,1550.3 757.5,1531.2 758.5,1597.9 759.5,1559.8 760.5,1521.7 761.5,1550.3 762.5,1578.8 763.5,1502.6 764.5,1569.3 765.5,1569.3 766.5,1569.3 767.5,1531.2 768.5,1559.8 769.5,1531.2 770.5,1531.2 771.5,1559.8 772.5,1521.7 773.5,1578.8 774.5,1531.2 775.5,1512.1 776.5,1540.7 777.5,1550.3 778.5,1550.3 779.5,1493.1 780.5,1521.7 781.5,1531.2 782.5,1559.8 783.5,1559.8 784.5,1540.7 784.5,1502.6 785.5,1502.6 786.5,1550.3 787.5,1550.3 788.5,1502.6 789.5,1540.7 790.5,1531.2 791.5,1569.3 792.5,1512.1 793.5,1559.8 794.5,1540.7 795.5,1559.8 796.5,1521.7 797.5,1455.0 798.5,1540.7 799.5,1493.1 800.5,1531.2 801.5,1521.7 802.5,1502.6 803.5,1540.7 804.5,1550.3 805.5,1531.2 806.5,1559.8 807.5,1559.8 808.5,1521.7 809.5,1483.6 810.5,1540.7 811.5,1521.7 812.5,1531.2 813.5,1483.6 814.5,1502.6 815.5,1569.3 816.5,1540.7 817.5,1569.3 818.5,1531.2 818.5,1493.1 819.5,1512.1 820.5,1512.1 821.5,1474.0 822.5,1502.6 823.5,1559.8 824.5,1540.7 825.5,1502.6 826.5,1531.2 827.5,1483.6 828.5,1483.6 829.5,1531.2 830.5,1502.6 831.5,1559.8 832.5,1540.7 833.5,1559.8 834.5,1531.2 835.5,1531.2 836.5,1521.7 837.5,1502.6 838.5,1531.2 839.5,1512.1 840.5,1512.1 841.5,1502.6 842.5,1531.2 843.5,1521.7 844.5,1493.1 845.5,1540.7 846.5,1512.1 847.5,1540.7 848.5,1483.6 849.5,1502.6 850.5,1531.2 851.5,1483.6 851.5,1502.6 852.5,1483.6 853.5,1512.1 854.5,1455.0 855.5,1502.6 856.5,1540.7 857.5,1483.6 858.5,1521.7 859.5,1493.1 860.5,1493.1 861.5,1521.7 862.5,1483.6 863.5,1483.6 864.5,1521.7 865.5,1521.7 866.5,1550.3 867.5,1464.5 868.5,1502.6 869.5,1493.1 870.5,1502.6 871.5,1512.1 872.5,1502.6 873.5,1540.7 874.5,1512.1 875.5,1464.5 876.5,1474.0 877.5,1521.7 878.5,1521.7 879.5,1502.6 880.5,1445.5 881.5,1531.2 882.5,1531.2 883.5,1540.7 884.5,1502.6 885.5,1464.5 885.5,1521.7 886.5,1464.5 887.5,1559.8 888.5,1502.6 889.5,1455.0 890.5,1474.0 891.5,1464.5 892.5,1455.0 893.5,1474.0 894.5,1502.6 895.5,1559.8 896.5,1455.0 897.5,1445.5 898.5,1445.5 899.5,1493.1 900.5,1502.6 901.5,1464.5 902.5,1512.1 903.5,1493.1 904.5,1502.6 905.5,1464.5 906.5,1493.1 907.5,1416.9 908.5,1483.6 909.5,1493.1 910.5,1493.1 911.5,1416.9 912.5,1455.0 913.5,1493.1 914.5,1483.6 915.5,1512.1 916.5,1569.3 917.5,1483.6 918.5,1388.3 919.5,1464.5 919.5,1483.6 920.5,1502.6 921.5,1493.1 922.5,1483.6 923.5,1474.0 924.5,1512.1 925.5,1502.6 926.5,1407.3 927.5,1445.5 928.5,1435.9 929.5,1445.5 930.5,1407.3 931.5,1493.1 932.5,1474.0 933.5,1445.5 934.5,1474.0 935.5,1407.3 936.5,1359.7 937.5,1407.3 938.5,1445.5 939.5,1464.5 940.5,1464.5 941.5,1502.6 942.5,1388.3 943.5,1474.0 944.5,1388.3 945.5,1445.5 946.5,1407.3 947.5,1483.6 948.5,1445.5 949.5,1397.8 950.5,1435.9 951.5,1416.9 952.5,1464.5 952.5,1445.5 953.5,1426.4 954.5,1426.4 955.5,1455.0 956.5,1388.3 957.5,1435.9 958.5,1455.0 959.5,1474.0 960.5,1502.6 961.5,1435.9 962.5,1464.5 963.5,1502.6 964.5,1407.3 965.5,1493.1 966.5,1455.0 967.5,1521.7 968.5,1350.2 969.5,1407.3 970.5,1369.2 971.5,1445.5 972.5,1426.4 973.5,1502.6 974.5,1445.5 975.5,1416.9 976.5,1474.0 977.5,1483.6 978.5,1359.7 979.5,1254.9 980.5,1464.5 981.5,1426.4 982.5,1397.8 983.5,1474.0 984.5,1464.5 985.5,1464.5 986.5,1445.5 986.5,1445.5 987.5,1397.8 988.5,1445.5 989.5,1426.4 990.5,1474.0 991.5,1426.4 992.5,1483.6 993.5,1416.9 994.5,1416.9 995.5,1321.6 996.5,1388.3 997.5,1407.3 998.5,1397.8 999.5,1350.2 1000.5,1359.7 1001.5,1455.0 1002.5,1416.9 1003.5,1331.1 1004.5,1416.9 1005.5,1312.1 1006.5,1397.8 1007.5,1369.2 1008.5,1359.7 1009.5,1321.6 1010.5,1474.0 1011.5,1273.9 1012.5,1369.2 1013.5,1283.5 1014.5,1445.5 1015.5,1302.5 1016.5,1254.9 1017.5,1331.1 1018.5,1350.2 1019.5,1331.1 1020.5,1378.8 1020.5,1397.8 1021.5,1388.3 1022.5,1321.6 1023.5,1397.8 1024.5,1369.2 1025.5,1426.4 1026.5,1378.8 1027.5,1331.1 1028.5,1416.9 1029.5,1455.0 1030.5,1264.4 1031.5,1331.1 1032.5,1435.9 1033.5,1350.2 1034.5,1188.2 1035.5,1340.6 1036.5,1321.6 1037.5,1378.8 1038.5,1359.7 1039.5,1388.3 1040.5,1340.6 1041.5,1283.5 1042.5,1293.0 1043.5,1312.1 1044.5,1293.0 1045.5,1378.8 1046.5,1350.2 1047.5,1293.0 1048.5,1321.6 1049.5,1331.1 1050.5,1350.2 1051.5,1293.0 1052.5,1254.9 1053.5,1312.1 1053.5,1178.7 1054.5,1312.1 1055.5,1226.3 1056.5,1378.8 1057.5,1340.6 1058.5,1416.9 1059.5,1264.4 1060.5,1359.7 1061.5,1264.4 1062.5,1245.4 1063.5,1378.8 1064.5,1235.8 1065.5,1293.0 1066.5,1340.6 1067.5,1254.9 1068.5,1293.0 1069.5,1273.9 1070.5,1235.8 1071.5,1283.5 1072.5,1416.9 1073.5,1378.8 1074.5,1340.6 1075.5,1340.6 1076.5,1197.7 1077.5,1321.6 1078.5,1283.5 1079.5,1121.5 1080.5,1188.2 1081.5,1226.3 1082.5,1150.1 1083.5,1359.7 1084.5,1207.2 1085.5,1188.2 1086.5,1207.2 1087.5,1254.9 1087.5,1159.6 1088.5,1226.3 1089.5,1235.8 1090.5,1226.3 1091.5,1178.7 1092.5,1235.8 1093.5,1273.9 1094.5,1188.2 1095.5,1102.4 1096.5,1254.9 1097.5,1131.0 1098.5,1178.7 1099.5,1073.9 1100.5,1140.6 1101.5,1188.2 1102.5,1264.4 1103.5,1159.6 1104.5,1159.6 1105.5,1169.1 1106.5,1102.4 1107.5,1169.1 1108.5,1235.8 1109.5,1207.2 1110.5,1140.6 1111.5,1131.0 1112.5,1112.0 1113.5,988.1 1114.5,1112.0 1115.5,1273.9 1116.5,1121.5 1117.5,1102.4 1118.5,1169.1 1119.5,1054.8 1120.5,1045.3 1121.5,1112.0 1121.5,978.6 1122.5,1102.4 1123.5,1216.8 1124.5,1226.3 1125.5,1207.2 1126.5,1026.2 1127.5,1235.8 1128.5,1083.4 1129.5,1016.7 1130.5,997.6 1131.5,911.9 1132.5,978.6 1133.5,950.0 1134.5,959.5 1135.5,969.0 1136.5,921.4 1137.5,1102.4 1138.5,1121.5 1139.5,1092.9 1140.5,1026.2 1141.5,1092.9 1142.5,1083.4 1143.5,1150.1 1144.5,1092.9 1145.5,1083.4 1146.5,1054.8 1147.5,769.0 1148.5,950.0 1149.5,892.8 1150.5,1092.9 1151.5,997.6 1152.5,988.1 1153.5,921.4 1154.5,1064.3 1154.5,1035.7 1155.5,1026.2 1156.5,969.0 1157.5,959.5 1158.5,911.9 1159.5,969.0 1160.5,902.3 1161.5,930.9 1162.5,969.0 1163.5,911.9 1164.5,1112.0 1165.5,930.9 1166.5,988.1 1167.5,1007.2 1168.5,1064.3 1169.5,969.0 1170.5,950.0 1171.5,892.8 1172.5,1016.7 1173.5,921.4 1174.5,902.3 1175.5,1045.3 1176.5,826.1 1177.5,864.2 1178.5,892.8 1179.5,969.0 1180.5,1007.2 1181.5,950.0 1182.5,1016.7 1183.5,1064.3 1184.5,883.3 1185.5,1159.6 1186.5,864.2 1187.5,826.1 1188.5,892.8 1188.5,1064.3 1189.5,978.6 1190.5,721.3 1191.5,864.2 1192.5,950.0 1193.5,978.6 1194.5,940.5 1195.5,797.5 1196.5,930.9 1197.5,778.5 1198.5,902.3 1199.5,988.1 1200.5,1045.3 1201.5,959.5 1202.5,950.0 1203.5,788.0 1204.5,1016.7 1205.5,702.3 1206.5,978.6 1207.5,911.9 1208.5,797.5 1209.5,959.5 1210.5,883.3 1211.5,1102.4 1212.5,835.7 1213.5,1026.2 1214.5,921.4 1215.5,1016.7 1216.5,921.4 1217.5,854.7 1218.5,902.3 1219.5,959.5 1220.5,883.3 1221.5,1178.7 1222.5,930.9 1222.5,921.4 1223.5,769.0 1224.5,864.2 1225.5,883.3 1226.5,740.4 1227.5,950.0 1228.5,873.8 1229.5,864.2 1230.5,702.3 1231.5,988.1 1232.5,940.5 1233.5,988.1 1234.5,950.0 1235.5,940.5 1236.5,902.3 1237.5,911.9 1238.5,883.3 1239.5,930.9 1240.5,930.9 1241.5,883.3 1242.5,1026.2 1243.5,1016.7 1244.5,807.1 1245.5,1121.5 1246.5,1007.2 1247.5,1016.7 1248.5,1064.3 1249.5,1007.2 1250.5,1016.7 1251.5,1159.6 1252.5,1035.7 1253.5,911.9 1254.5,988.1 1255.5,902.3 1256.5,1112.0 1256.5,911.9 1257.5,921.4 1258.5,1064.3 1259.5,930.9 1260.5,892.8 1261.5,930.9 1262.5,1092.9 1263.5,1007.2 1264.5,854.7 1265.5,997.6 1266.5,978.6 1267.5,1178.7 1268.5,1054.8 1269.5,1035.7 1270.5,883.3 1271.5,950.0 1272.5,1026.2 1273.5,1026.2 1274.5,940.5 1275.5,1159.6 1276.5,1045.3 1277.5,1016.7 1278.5,930.9 1279.5,950.0 1280.5,845.2 1281.5,1112.0 1282.5,854.7 1283.5,1140.6 1284.5,1131.0 1285.5,978.6 1286.5,1045.3 1287.5,1102.4 1288.5,950.0 1289.5,1035.7 1289.5,1159.6 1290.5,1016.7 1291.5,969.0 1292.5,1073.9 1293.5,1026.2 1294.5,1140.6 1295.5,1045.3 1296.5,1026.2 1297.5,1083.4 1298.5,911.9 1299.5,988.1 1300.5,1121.5 1301.5,1131.0 1302.5,1045.3 1303.5,1045.3 1304.5,1150.1 1305.5,1026.2 1306.5,921.4 1307.5,1140.6 1308.5,1045.3 1309.5,921.4 1310.5,1007.2 1311.5,969.0 1312.5,1092.9 1313.5,1016.7 1314.5,997.6 1315.5,1150.1 1316.5,1026.2 1317.5,969.0 1318.5,1035.7 1319.5,1092.9 1320.5,1197.7 1321.5,978.6 1322.5,1102.4 1323.5,997.6 1323.5,1073.9 1324.5,1092.9 1325.5,1092.9 1326.5,978.6 1327.5,1064.3 1328.5,997.6 1329.5,1054.8 1330.5,1045.3 1331.5,1178.7 1332.5,959.5 1333.5,1121.5 1334.5,1073.9 1335.5,1073.9 1336.5,1035.7 1337.5,1083.4 1338.5,959.5 1339.5,1178.7 1340.5,1140.6 1341.5,1064.3 1342.5,1140.6 1343.5,969.0 1344.5,1121.5 1345.5,1083.4 1346.5,1035.7 1347.5,1159.6 1348.5,1188.2 1349.5,1131.0 1350.5,1178.7 1351.5,1035.7 1352.5,1092.9 1353.5,1150.1 1354.5,1169.1 1355.5,1121.5 1356.5,1150.1 1357.5,1178.7 1357.5,988.1 1358.5,1054.8 1359.5,1016.7 1360.5,1150.1 1361.5,921.4 1362.5,1045.3 1363.5,1102.4 1364.5,1007.2 1365.5,950.0 1366.5,892.8 1367.5,1016.7 1368.5,1092.9 1369.5,969.0 1370.5,1026.2 1371.5,940.5 1372.5,1016.7 1373.5,1026.2 1374.5,1216.8 1375.5,1026.2 1376.5,1064.3 1377.5,988.1 1378.5,1064.3 1379.5,1178.7 1380.5,1216.8 1381.5,1131.0 1382.5,978.6 1383.5,997.6 1384.5,1121.5 1385.5,1150.1 1386.5,1035.7 1387.5,1083.4 1388.5,1197.7 1389.5,1026.2 1390.5,988.1 1390.5,1073.9 1391.5,1007.2 1392.5,1092.9 1393.5,1102.4 1394.5,1083.4 1395.5,1035.7 1396.5,1016.7 1397.5,1092.9 1398.5,1054.8 1399.5,1054.8 1400.5,950.0 1401.5,969.0 1402.5,1026.2 1403.5,1045.3 1404.5,683.2 1405.5,835.7 1406.5,1112.0 1407.5,997.6 1408.5,1064.3 1409.5,1064.3 1410.5,883.3 1411.5,1092.9 1412.5,807.1 1413.5,959.5 1414.5,1073.9 1415.5,969.0 1416.5,835.7 1417.5,988.1 1418.5,816.6 1419.5,940.5 1420.5,940.5 1421.5,902.3 1422.5,921.4 1423.5,1064.3 1424.5,1150.1 1424.5,930.9 1425.5,950.0 1426.5,883.3 1427.5,759.4 1428.5,873.8 1429.5,978.6 1430.5,988.1 1431.5,788.0 1432.5,950.0 1433.5,845.2 1434.5,883.3 1435.5,1121.5 1436.5,883.3 1437.5,769.0 1438.5,816.6 1439.5,759.4 1440.5,864.2 1441.5,883.3 1442.5,807.1 1443.5,1064.3 1444.5,921.4 1445.5,749.9 1446.5,902.3 1447.5,969.0 1448.5,921.4 1449.5,911.9 1450.5,816.6 1451.5,921.4 1452.5,807.1 1453.5,902.3 1454.5,940.5 1455.5,940.5 1456.5,969.0 1457.5,864.2 1458.5,740.4 1458.5,864.2 1459.5,730.8 1460.5,1064.3 1461.5,930.9 1462.5,1054.8 1463.5,921.4 1464.5,988.1 1465.5,902.3 1466.5,749.9 1467.5,835.7 1468.5,911.9 1469.5,788.0 1470.5,721.3 1471.5,635.6 1472.5,692.7 1473.5,854.7 1474.5,873.8 1475.5,626.0 1476.5,950.0 1477.5,778.5 1478.5,683.2 1479.5,873.8 1480.5,807.1 1481.5,988.1 1482.5,807.1 1483.5,873.8 1484.5,873.8 1485.5,911.9 1486.5,940.5 1487.5,788.0 1488.5,788.0 1489.5,721.3 1490.5,788.0 1491.5,978.6 1491.5,740.4 1492.5,826.1 1493.5,1112.0 1494.5,845.2 1495.5,864.2 1496.5,950.0 1497.5,740.4 1498.5,911.9 1499.5,807.1 1500.5,740.4 1501.5,902.3 1502.5,797.5 1503.5,854.7 1504.5,892.8 1505.5,807.1 1506.5,959.5 1507.5,730.8 1508.5,902.3 1509.5,1064.3 1510.5,673.7 1511.5,911.9 1512.5,978.6 1513.5,1007.2 1514.5,969.0 1515.5,978.6 1516.5,978.6 1517.5,950.0 1518.5,997.6 1519.5,921.4 1520.5,978.6 1521.5,1054.8 1522.5,826.1 1523.5,902.3 1524.5,1064.3 1525.5,1035.7 1525.5,826.1 1526.5,911.9 1527.5,807.1 1528.5,950.0 1529.5,1035.7 1530.5,835.7 1531.5,892.8 1532.5,902.3 1533.5,892.8 1534.5,940.5 1535.5,864.2 1536.5,854.7 1537.5,978.6 1538.5,950.0 1539.5,864.2 1540.5,978.6 1541.5,921.4 1542.5,1073.9 1543.5,740.4 1544.5,854.7 1545.5,902.3 1546.5,1016.7 1547.5,969.0 1548.5,959.5 1549.5,1026.2 1550.5,873.8 1551.5,902.3 1552.5,892.8 1553.5,845.2 1554.5,1102.4 1555.5,826.1 1556.5,835.7 1557.5,950.0 1558.5,1026.2 1559.5,1045.3 1559.5,1007.2 1560.5,740.4 1561.5,816.6 1562.5,1035.7 1563.5,873.8 1564.5,749.9 1565.5,921.4 1566.5,1035.7 1567.5,988.1 1568.5,1016.7 1569.5,1054.8 1570.5,854.7 1571.5,902.3 1572.5,988.1 1573.5,978.6 1574.5,1026.2 1575.5,997.6 1576.5,978.6 1577.5,1045.3 1578.5,1054.8 1579.5,1102.4 1580.5,854.7 1581.5,749.9 1582.5,959.5 1583.5,826.1 1584.5,892.8 1585.5,959.5 1586.5,988.1 1587.5,1026.2 1588.5,959.5 1589.5,959.5 1590.5,969.0 1591.5,892.8 1592.5,1035.7 1593.5,1035.7 1593.5,1035.7 1594.5,930.9 1595.5,1140.6 1596.5,1054.8 1597.5,1035.7 1598.5,1102.4 1599.5,892.8 1600.5,883.3 1601.5,997.6 1602.5,1016.7 1603.5,988.1 1604.5,950.0 1605.5,911.9 1606.5,1026.2 1607.5,1083.4 1608.5,911.9 1609.5,1007.2 1610.5,959.5 1611.5,1092.9 1612.5,969.0 1613.5,1026.2 1614.5,902.3 1615.5,1026.2 1616.5,930.9 1617.5,1102.4 1618.5,892.8 1619.5,997.6 1620.5,1035.7 1621.5,969.0 1622.5,1045.3 1623.5,1026.2 1624.5,988.1 1625.5,1045.3 1626.5,988.1 1626.5,1045.3 1627.5,911.9 1628.5,1169.1 1629.5,873.8 1630.5,845.2 1631.5,969.0 1632.5,1007.2 1633.5,864.2 1634.5,797.5 1635.5,1054.8 1636.5,1131.0 1637.5,921.4 1638.5,978.6 1639.5,969.0 1640.5,864.2 1641.5,1092.9 1642.5,1073.9 1643.5,1007.2 1644.5,1045.3 1645.5,1092.9 1646.5,1045.3 1647.5,1054.8 1648.5,902.3 1649.5,864.2 1650.5,1045.3 1651.5,892.8 1652.5,950.0 1653.5,930.9 1654.5,845.2 1655.5,769.0 1656.5,997.6 1657.5,845.2 1658.5,1007.2 1659.5,1026.2 1660.5,1112.0 1660.5,1073.9 1661.5,1045.3 1662.5,988.1 1663.5,902.3 1664.5,988.1 1665.5,1054.8 1666.5,1007.2 1667.5,845.2 1668.5,969.0 1669.5,845.2 1670.5,1026.2 1671.5,950.0 1672.5,1054.8 1673.5,969.0 1674.5,1121.5 1675.5,1102.4 1676.5,1035.7 1677.5,988.1 1678.5,1073.9 1679.5,997.6 1680.5,950.0 1681.5,1083.4 1682.5,1131.0 1683.5,1016.7 1684.5,1064.3 1685.5,1064.3 1686.5,1131.0 1687.5,1083.4 1688.5,1054.8 1689.5,1035.7 1690.5,1150.1 1691.5,1083.4 1692.5,1073.9 1693.5,950.0 1694.5,1064.3 1694.5,1054.8 1695.5,1131.0 1696.5,1016.7 1697.5,1140.6 1698.5,921.4 1699.5,1035.7 1700.5,1102.4 1701.5,1112.0 1702.5,930.9 1703.5,1073.9 1704.5,1064.3 1705.5,1073.9 1706.5,1169.1 1707.5,1026.2 1708.5,1140.6 1709.5,826.1 1710.5,1054.8 1711.5,911.9 1712.5,978.6 1713.5,1045.3 1714.5,1131.0 1715.5,1245.4 1716.5,1026.2 1717.5,1035.7 1718.5,1083.4 1719.5,845.2 1720.5,1035.7 1721.5,1083.4 1722.5,1092.9 1723.5,1102.4 1724.5,1140.6 1725.5,1112.0 1726.5,1197.7 1727.5,1216.8 1727.5,1035.7 1728.5,1169.1 1729.5,997.6 1730.5,940.5 1731.5,1121.5 1732.5,1102.4 1733.5,1131.0 1734.5,1188.2 1735.5,1007.2 1736.5,1159.6 1737.5,1035.7 1738.5,1140.6 1739.5,1207.2 1740.5,1150.1 1741.5,1092.9 1742.5,1197.7 1743.5,1073.9 1744.5,1178.7 1745.5,1083.4 1746.5,959.5 1747.5,1140.6 1748.5,1131.0 1749.5,1159.6 1750.5,997.6 1751.5,1178.7 1752.5,1016.7 1753.5,1092.9 1754.5,1226.3 1755.5,1073.9 1756.5,1169.1 1757.5,1064.3 1758.5,1026.2 1759.5,1054.8 1760.5,1178.7 1761.5,997.6 1761.5,1140.6 1762.5,1216.8 1763.5,1054.8 1764.5,1083.4 1765.5,950.0 1766.5,1092.9 1767.5,1140.6 1768.5,1073.9 1769.5,997.6 1770.5,1092.9 1771.5,1254.9 1772.5,1150.1 1773.5,1207.2 1774.5,1245.4 1775.5,1092.9 1776.5,1178.7 1777.5,1121.5 1778.5,1293.0 1779.5,1159.6 1780.5,1150.1 1781.5,1102.4 1782.5,1083.4 1783.5,1150.1 1784.5,1112.0 1785.5,1064.3 1786.5,1131.0 1787.5,1102.4 1788.5,1254.9 1789.5,1121.5 1790.5,1178.7 1791.5,1169.1 1792.5,1092.9 1793.5,1226.3 1794.5,1102.4 1795.5,1092.9 1795.5,1169.1 1796.5,1054.8 1797.5,1159.6 1798.5,1188.2 1799.5,1302.5 1800.5,1245.4 1801.5,1045.3 1802.5,1140.6 1803.5,1197.7 1804.5,1073.9 1805.5,1245.4 1806.5,1235.8 1807.5,1131.0 1808.5,1331.1 1809.5,1216.8 1810.5,1197.7 1811.5,1293.0 1812.5,1226.3 1813.5,1178.7 1814.5,1283.5 1815.5,1131.0 1816.5,1245.4 1817.5,1254.9 1818.5,1235.8 1819.5,1293.0 1820.5,1140.6 1821.5,1216.8 1822.5,1140.6 1823.5,1302.5 1824.5,1245.4 1825.5,1226.3 1826.5,1121.5 1827.5,1235.8 1828.5,1216.8 1828.5,1359.7 1829.5,1245.4 1830.5,1273.9 1831.5,1321.6 1832.5,1207.2 1833.5,1302.5 1834.5,1254.9 1835.5,1273.9 1836.5,1340.6 1837.5,1054.8 1838.5,1235.8 1839.5,1140.6 1840.5,1169.1 1841.5,1293.0 1842.5,1159.6 1843.5,1293.0 1844.5,1235.8 1845.5,1350.2 1846.5,1226.3 1847.5,1226.3 1848.5,1226.3 1849.5,1264.4 1850.5,1331.1 1851.5,1321.6 1852.5,1350.2 1853.5,1283.5 1854.5,1207.2 1855.5,1273.9 1856.5,1350.2 1857.5,1378.8 1858.5,1407.3 1859.5,1312.1 1860.5,1293.0 1861.5,1293.0 1862.5,1369.2 1862.5,1331.1 1863.5,1283.5 1864.5,1293.0 1865.5,1302.5 1866.5,1312.1 1867.5,1312.1 1868.5,1293.0 1869.5,1283.5 1870.5,1293.0 1871.5,1331.1 1872.5,1369.2 1873.5,1359.7 1874.5,1388.3 1875.5,1350.2 1876.5,1350.2 1877.5,1254.9 1878.5,1226.3 1879.5,1350.2 1880.5,1264.4 1881.5,1445.5 1882.5,1416.9 1883.5,1369.2 1884.5,1283.5 1885.5,1397.8 1886.5,1359.7 1887.5,1397.8 1888.5,1378.8 1889.5,1369.2 1890.5,1331.1 1891.5,1397.8 1892.5,1369.2 1893.5,1397.8 1894.5,1445.5 1895.5,1369.2 1896.5,1378.8 1896.5,1331.1 1897.5,1407.3 1898.5,1388.3 1899.5,1388.3 1900.5,1340.6 1901.5,1416.9 1902.5,1340.6 1903.5,1359.7 1904.5,1331.1 1905.5,1426.4 1906.5,1474.0 1907.5,1455.0 1908.5,1331.1 1909.5,1445.5 1910.5,1388.3 1911.5,1416.9 1912.5,1350.2 1913.5,1378.8 1914.5,1312.1 1915.5,1359.7 1916.5,1388.3 1917.5,1416.9 1918.5,1388.3 1919.5,1416.9 1920.5,1397.8 1921.5,1455.0 1922.5,1369.2 1923.5,1435.9 1924.5,1502.6 1925.5,1455.0 1926.5,1445.5 1927.5,1359.7 1928.5,1435.9 1929.5,1350.2 1930.5,1445.5 1930.5,1455.0 1931.5,1321.6 1932.5,1435.9 1933.5,1312.1 1934.5,1435.9 1935.5,1445.5 1936.5,1416.9 1937.5,1302.5 1938.5,1388.3 1939.5,1445.5 1940.5,1350.2 1941.5,1445.5 1942.5,1445.5 1943.5,1455.0 1944.5,1407.3 1945.5,1464.5 1946.5,1474.0 1947.5,1435.9 1948.5,1397.8 1949.5,1435.9 1950.5,1426.4 1951.5,1512.1 1952.5,1416.9 1953.5,1483.6 1954.5,1455.0 1955.5,1435.9 1956.5,1474.0 1957.5,1493.1 1958.5,1455.0 1959.5,1493.1 1960.5,1455.0 1961.5,1483.6 1962.5,1474.0 1963.5,1483.6 1963.5,1426.4 1964.5,1455.0 1965.5,1474.0 1966.5,1435.9 1967.5,1512.1 1968.5,1483.6 1969.5,1464.5 1970.5,1464.5 1971.5,1512.1 1972.5,1407.3 1973.5,1493.1 1974.5,1540.7 1975.5,1483.6 1976.5,1426.4 1977.5,1464.5 1978.5,1540.7 1979.5,1493.1 1980.5,1483.6 1981.5,1464.5 1982.5,1455.0 1983.5,1512.1 1984.5,1521.7 1985.5,1512.1 1986.5,1483.6 1987.5,1464.5 1988.5,1474.0 1989.5,1464.5 1990.5,1493.1 1991.5,1435.9 1992.5,1483.6 1993.5,1483.6 1994.5,1512.1 1995.5,1483.6 1996.5,1464.5 1997.5,1521.7 1997.5,1474.0 1998.5,1483.6 1999.5,1540.7 2000.5,1483.6 2001.5,1559.8 2002.5,1435.9 2003.5,1455.0 2004.5,1493.1 2005.5,1512.1 2006.5,1512.1 2007.5,1521.7 2008.5,1550.3 2009.5,1483.6 2010.5,1540.7 2011.5,1474.0 2012.5,1540.7 2013.5,1502.6 2014.5,1550.3 2015.5,1464.5 2016.5,1493.1 2017.5,1416.9 2018.5,1455.0 2019.5,1521.7 2020.5,1455.0 2021.5,1502.6 2022.5,1474.0 2023.5,1493.1 2024.5,1493.1 2025.5,1483.6 2026.5,1521.7 2027.5,1464.5 2028.5,1483.6 2029.5,1521.7 2030.5,1493.1 2031.5,1483.6 2031.5,1474.0 2032.5,1521.7 2033.5,1502.6 2034.5,1512.1 2035.5,1464.5 2036.5,1531.2 2037.5,1512.1 2038.5,1540.7 2039.5,1493.1 2040.5,1474.0 2041.5,1455.0 2042.5,1455.0 2043.5,1512.1 2044.5,1493.1 2045.5,1550.3 2046.5,1502.6 2047.5,1502.6 2048.5,1493.1 2049.5,1493.1 2050.5,1540.7 2051.5,1502.6 2052.5,1512.1 2053.5,1493.1 2054.5,1512.1 2055.5,1559.8 2056.5,1531.2 2057.5,1455.0 2058.5,1521.7 2059.5,1464.5 2060.5,1502.6 2061.5,1502.6 2062.5,1512.1 2063.5,1550.3 2064.5,1521.7 2064.5,1569.3 2065.5,1521.7 2066.5,1569.3 2067.5,1521.7 2068.5,1559.8 2069.5,1550.3 2070.5,1493.1 2071.5,1531.2 2072.5,1474.0 2073.5,1569.3 2074.5,1521.7 2075.5,1540.7 2076.5,1559.8 2077.5,1550.3 2078.5,1512.1 2079.5,1550.3 2080.5,1559.8 2081.5,1493.1 2082.5,1531.2 2083.5,1540.7 2084.5,1578.8 2085.5,1550.3 2086.5,1521.7 2087.5,1531.2 2088.5,1531.2 2089.5,1559.8 2090.5,1483.6 2091.5,1550.3 2092.5,1540.7 2093.5,1559.8 2094.5,1512.1 2095.5,1550.3 2096.5,1550.3 2097.5,1559.8 2098.5,1550.3 2098.5,1569.3 2099.5,1578.8 2100.5,1531.2 2101.5,1559.8 2102.5,1540.7 2103.5,1550.3 2104.5,1597.9 2105.5,1540.7 2106.5,1550.3 2107.5,1550.3 2108.5,1578.8 2109.5,1569.3 2110.5,1531.2 2111.5,1531.2 2112.5,1531.2 2113.5,1540.7 2114.5,1550.3 2115.5,1559.8 2116.5,1531.2 2117.5,1550.3 2118.5,1540.7 2119.5,1588.4 2120.5,1493.1 2121.5,1559.8 2122.5,1531.2 2123.5,1521.7 2124.5,1493.1 2125.5,1540.7 2126.5,1550.3 2127.5,1569.3 2128.5,1569.3 2129.5,1559.8 2130.5,1559.8 2131.5,1588.4 2132.5,1559.8 2132.5,1550.3 2133.5,1578.8 2134.5,1578.8 2135.5,1550.3 2136.5,1550.3 2137.5,1550.3 2138.5,1550.3 2139.5,1578.8 2140.5,1559.8 2141.5,1550.3 2142.5,1521.7 2143.5,1559.8 2144.5,1559.8 2145.5,1569.3 2146.5,1569.3 2147.5,1540.7 2148.5,1578.8 2149.5,1540.7 2150.5,1559.8 2151.5,1559.8 2152.5,1569.3 2153.5,1569.3 2154.5,1521.7 2155.5,1569.3 2156.5,1578.8 2157.5,1588.4 2158.5,1569.3 2159.5,1550.3 2160.5,1578.8 2161.5,1550.3 2162.5,1588.4 2163.5,1512.1 2164.5,1559.8 2165.5,1578.8 2165.5,1569.3 2166.5,1578.8 2167.5,1559.8 2168.5,1550.3 2169.5,1550.3 2170.5,1550.3 2171.5,1559.8 2172.5,1578.8 2173.5,1550.3 2174.5,1550.3 2175.5,1588.4 2176.5,1588.4 2177.5,1578.8 2178.5,1578.8 2179.5,1578.8 2180.5,1569.3 2181.5,1559.8 2182.5,1559.8 2183.5,1569.3 2184.5,1578.8 2185.5,1559.8 2186.5,1559.8 2187.5,1597.9 2188.5,1588.4 2189.5,1531.2 2190.5,1588.4 2191.5,1588.4 2192.5,1569.3 2193.5,1569.3 2194.5,1588.4 2195.5,1569.3 2196.5,1559.8 2197.5,1578.8 2198.5,1578.8 2199.5,1578.8 2199.5,1588.4 2200.5,1578.8 2201.5,1569.3 2202.5,1559.8 2203.5,1588.4 2204.5,1578.8 2205.5,1588.4 2206.5,1559.8 2207.5,1578.8 2208.5,1588.4 2209.5,1578.8 2210.5,1588.4 2211.5,1540.7 2212.5,1578.8 2213.5,1588.4 2214.5,1597.9 2215.5,1569.3 2216.5,1597.9 2217.5,1588.4 2218.5,1578.8 2219.5,1597.9 2220.5,1559.8 2221.5,1597.9 2222.5,1569.3 2223.5,1597.9 2224.5,1588.4 2225.5,1578.8 2226.5,1578.8 2227.5,1578.8 2228.5,1588.4 2229.5,1597.9 2230.5,1578.8 2231.5,1578.8 2232.5,1597.9 2233.5,1588.4 2233.5,1597.9 2234.5,1588.4 2235.5,1588.4 2236.5,1588.4 2237.5,1578.8 2238.5,1578.8 2239.5,1578.8 2240.5,1588.4 2241.5,1597.9 2242.5,1578.8 2243.5,1588.4 2244.5,1569.3 2245.5,1588.4 2246.5,1588.4 2247.5,1588.4 2248.5,1597.9 2249.5,1578.8 2250.5,1588.4 2251.5,1588.4 2252.5,1588.4 2253.5,1578.8 2254.5,1578.8 2255.5,1597.9 2256.5,1588.4 2257.5,1597.9 2258.5,1597.9 2259.5,1588.4 2260.5,1597.9 2261.5,1597.9 2262.5,1578.8 2263.5,1588.4 2264.5,1559.8 2265.5,1597.9 2266.5,1578.8 2267.5,1588.4 2267.5,1597.9 2268.5,1588.4 2269.5,1588.4 2270.5,1597.9 2271.5,1559.8 2272.5,1597.9 2273.5,1597.9 2274.5,1588.4 2275.5,1597.9 2276.5,1597.9 2277.5,1597.9 2278.5,1578.8 2279.5,1588.4 2280.5,1588.4 2281.5,1597.9 2282.5,1597.9 2283.5,1597.9 2284.5,1588.4 2285.5,1588.4 2286.5,1597.9 2287.5,1597.9 2288.5,1597.9 2289.5,1588.4 2290.5,1597.9 2291.5,1588.4 2292.5,1597.9 2293.5,1588.4 2294.5,1597.9 2295.5,1597.9 2296.5,1588.4 2297.5,1578.8 2298.5,1597.9 2299.5,1597.9 2300.5,1597.9 2300.5,1597.9 2301.5,1588.4 2302.5,1578.8 2303.5,1597.9 2304.5,1597.9 2305.5,1597.9 2306.5,1597.9 2307.5,1597.9 2308.5,1597.9 2309.5,1597.9 2310.5,1578.8 2311.5,1597.9 2312.5,1597.9 2313.5,1597.9 2314.5,1597.9 2315.5,1597.9 2316.5,1597.9 2317.5,1597.9 2318.5,1597.9 2319.5,1597.9 2320.5,1588.4 2321.5,1597.9 2322.5,1597.9 2323.5,1597.9 2324.5,1597.9 2325.5,1597.9 2326.5,1597.9 2327.5,1597.9 2328.5,1597.9 2329.5,1588.4 2330.5,1597.9 2331.5,1597.9 2332.5,1597.9 2333.5,1588.4 2334.5,1588.4 2334.5,1597.9 2335.5,1597.9 2336.5,1597.9 2337.5,1597.9 2338.5,1597.9 2339.5,1597.9 2340.5,1588.4 2341.5,1597.9 2342.5,1597.9 2343.5,1597.9 2344.5,1588.4 2345.5,1597.9 2346.5,1578.8 2347.5,1597.9 2348.5,1597.9 2349.5,1597.9 2350.5,1597.9 2351.5,1578.8 2352.5,1588.4 2353.5,1588.4 2354.5,1597.9 2355.5,1597.9 2356.5,1597.9 2357.5,1597.9 2358.5,1597.9 2359.5,1597.9 2360.5,1597.9 2361.5,1597.9 2362.5,1597.9 2363.5,1597.9 2364.5,1597.9 2365.5,1597.9 2366.5,1588.4 2367.5,1569.3 2368.5,1597.9 2368.5,1597.9 2369.5,1588.4 2370.5,1588.4 2371.5,1597.9 2372.5,1588.4 2373.5,1597.9 2374.5,1597.9 2375.5,1597.9 2376.5,1597.9 2377.5,1597.9 2378.5,1597.9 2379.5,1597.9 2380.5,1597.9 2381.5,1597.9 2382.5,1597.9"/>
</g>
<g font-family="Liberation Sans, Arial, sans-serif" font-size="81.1" fill="#000">
<text transform="translate(264 1620.3) scale(1 1.044)" text-anchor="end">0</text>
<text transform="translate(264 1429.7) scale(1 1.044)" text-anchor="end">20</text>
<text transform="translate(264 1239.2) scale(1 1.044)" text-anchor="end">40</text>
<text transform="translate(264 1048.6) scale(1 1.044)" text-anchor="end">60</text>
<text transform="translate(264 858.1) scale(1 1.044)" text-anchor="end">80</text>
<text transform="translate(264 667.5) scale(1 1.044)" text-anchor="end">100</text>
<text transform="translate(264 476.9) scale(1 1.044)" text-anchor="end">120</text>
<text transform="translate(264 286.4) scale(1 1.044)" text-anchor="end">140</text>
<text transform="translate(264 95.8) scale(1 1.044)" text-anchor="end">160</text>
<text transform="translate(315.7 1713.8) scale(1 1.044)" text-anchor="middle">0</text>
<text transform="translate(593.2 1713.8) scale(1 1.044)" text-anchor="middle">20</text>
<text transform="translate(870.7 1713.8) scale(1 1.044)" text-anchor="middle">40</text>
<text transform="translate(1148.1 1713.8) scale(1 1.044)" text-anchor="middle">60</text>
<text transform="translate(1425.6 1713.8) scale(1 1.044)" text-anchor="middle">80</text>
<text transform="translate(1703.1 1713.8) scale(1 1.044)" text-anchor="middle">100</text>
<text transform="translate(1980.6 1713.8) scale(1 1.044)" text-anchor="middle">120</text>
<text transform="translate(2258.1 1713.8) scale(1 1.044)" text-anchor="middle">140</text>
</g>
<text transform="translate(1357 1795) scale(1 1.077)" text-anchor="middle" font-family="Liberation Sans, Arial, sans-serif" font-weight="bold" font-size="101.2">Heights (nm)</text>
<text transform="translate(111.9 830.5) rotate(-90) scale(1 1.029)" text-anchor="middle" font-family="Liberation Sans, Arial, sans-serif" font-weight="bold" font-size="103.5">Counts</text>
<path d="M1695 196.5 H1867" stroke="#000000" stroke-width="3" fill="none"/>
<g fill="#000000">
<text transform="translate(1890.85 221.8) scale(1 1.053)" font-family="Liberation Sans, Arial, sans-serif" font-size="88.6">PCL</text>
</g>
<path d="M1695 307 H1867" stroke="#ff0000" stroke-width="3" fill="none"/>
<g fill="#ff0000">
<text transform="translate(1890.85 331.8) scale(1 1.053)" font-family="Liberation Sans, Arial, sans-serif" font-size="88.6">PCL/1</text>
<text transform="translate(2136.8 331.8) scale(1 0.957)" font-family="DejaVu Serif, serif" font-size="78">α</text>
<text transform="translate(2187.6 331.8) scale(1 1.053)" font-family="Liberation Sans, Arial, sans-serif" font-size="88.6">T</text>
</g>
<path d="M1695 417.7 H1867" stroke="#008000" stroke-width="3" fill="none"/>
<g fill="#008000">
<text transform="translate(1890.85 442.4) scale(1 1.053)" font-family="Liberation Sans, Arial, sans-serif" font-size="88.6">PCL/5</text>
<text transform="translate(2136.8 442.4) scale(1 0.957)" font-family="DejaVu Serif, serif" font-size="78">α</text>
<text transform="translate(2187.6 442.4) scale(1 1.053)" font-family="Liberation Sans, Arial, sans-serif" font-size="88.6">T</text>
</g>
<path d="M1695 528.2 H1867" stroke="#0000ff" stroke-width="3" fill="none"/>
<g fill="#0000ff">
<text transform="translate(1890.85 553.6) scale(1 1.053)" font-family="Liberation Sans, Arial, sans-serif" font-size="88.6">PCL/20</text>
<text transform="translate(2185.8 553.6) scale(1 0.957)" font-family="DejaVu Serif, serif" font-size="78">α</text>
<text transform="translate(2236.7 553.6) scale(1 1.053)" font-family="Liberation Sans, Arial, sans-serif" font-size="88.6">T</text>
</g>
</svg>
</body></html>
